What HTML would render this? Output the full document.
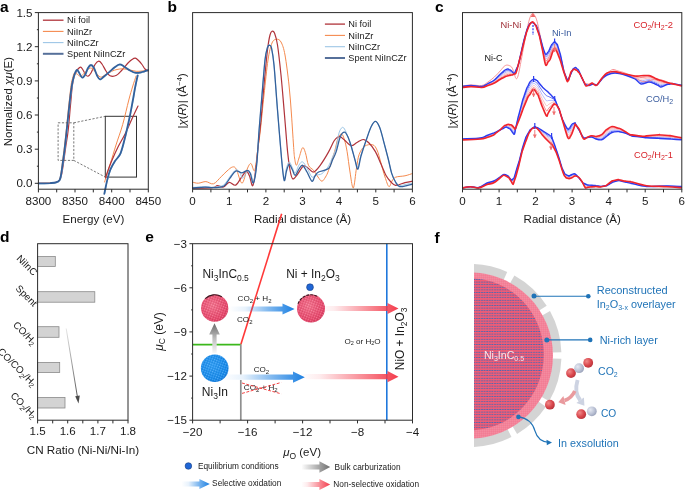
<!DOCTYPE html>
<html><head><meta charset="utf-8"><style>
html,body{margin:0;padding:0;background:#fff;}
svg{display:block;font-family:"Liberation Sans",sans-serif;will-change:transform;}
</style></head><body>
<svg width="685" height="490" viewBox="0 0 685 490">
<rect width="685" height="490" fill="#fff"/>
<text x="0.0" y="11.8" font-size="15.5" text-anchor="start" fill="#000" font-weight="bold" >a</text>
<text x="167.4" y="11.8" font-size="15.5" text-anchor="start" fill="#000" font-weight="bold" >b</text>
<text x="435.0" y="11.8" font-size="15.5" text-anchor="start" fill="#000" font-weight="bold" >c</text>
<text x="0.0" y="242.2" font-size="15.5" text-anchor="start" fill="#000" font-weight="bold" >d</text>
<text x="145.2" y="242.2" font-size="15.5" text-anchor="start" fill="#000" font-weight="bold" >e</text>
<text x="434.6" y="242.6" font-size="15.5" text-anchor="start" fill="#000" font-weight="bold" >f</text>
<path d="M38.5,183.3 C40.4,183.3 47.1,183.2 50.0,183.1 C52.9,182.9 54.4,182.9 56.0,182.4 C57.6,181.9 58.6,181.4 59.5,180.2 C60.4,179.0 60.8,177.9 61.5,175.0 C62.2,172.1 62.8,168.0 63.5,163.0 C64.2,158.0 65.2,150.5 66.0,145.0 C66.8,139.5 67.5,136.7 68.2,130.0 C69.0,123.3 69.8,112.3 70.5,105.0 C71.2,97.7 71.7,90.7 72.3,86.0 C72.9,81.3 73.5,79.2 74.0,77.0 C74.5,74.8 74.9,74.2 75.6,72.9 C76.3,71.6 77.1,70.0 78.0,69.0 C78.9,68.0 80.0,67.0 80.8,67.2 C81.6,67.4 82.2,68.8 83.0,70.0 C83.8,71.2 84.7,73.5 85.5,74.5 C86.3,75.5 87.1,76.5 88.0,76.2 C88.9,76.0 89.8,75.0 91.0,73.0 C92.2,71.0 93.7,66.5 95.0,64.5 C96.3,62.5 97.6,61.2 98.8,61.1 C100.0,61.0 100.8,62.4 102.0,64.0 C103.2,65.7 104.7,69.0 106.0,71.0 C107.3,73.0 108.2,75.1 110.0,75.8 C111.8,76.5 114.5,76.3 116.5,75.3 C118.5,74.3 120.1,72.0 122.0,70.0 C123.9,68.0 126.3,64.8 128.0,63.0 C129.7,61.2 130.8,60.3 132.0,59.5 C133.2,58.7 134.2,58.0 135.3,58.2 C136.4,58.4 137.4,59.5 138.5,60.5 C139.6,61.5 140.9,63.1 142.0,64.5 C143.1,65.9 144.0,67.9 145.0,69.0 C146.0,70.1 147.5,70.7 148.0,71.0" fill="none" stroke="#b0333a" stroke-width="1.2" stroke-linejoin="round" stroke-linecap="round" />
<path d="M38.5,183.3 C40.4,183.3 47.1,183.2 50.0,183.1 C52.9,182.9 54.4,183.0 56.0,182.4 C57.6,181.8 58.7,181.1 59.5,179.5 C60.3,177.9 60.5,175.9 61.0,173.0 C61.5,170.1 61.9,166.5 62.5,162.0 C63.1,157.5 63.8,151.7 64.5,146.0 C65.2,140.3 65.8,134.3 66.5,128.0 C67.2,121.7 67.8,114.3 68.5,108.0 C69.2,101.7 70.0,94.2 70.5,90.0 C71.0,85.8 71.0,85.2 71.5,82.7 C72.0,80.2 73.0,76.6 73.5,75.0 C74.0,73.4 74.2,73.1 74.8,72.9 C75.4,72.7 76.0,73.5 77.0,74.0 C78.0,74.5 79.2,76.5 80.5,76.2 C81.8,76.0 83.4,73.9 85.0,72.5 C86.6,71.1 88.6,68.2 90.3,68.0 C92.0,67.8 93.4,70.0 95.0,71.5 C96.6,73.0 98.4,76.4 100.1,77.0 C101.8,77.6 103.1,76.0 105.0,75.0 C106.9,74.0 109.6,72.2 111.6,71.3 C113.6,70.4 115.1,69.9 117.0,69.5 C118.9,69.1 120.8,68.7 123.0,68.8 C125.2,68.9 127.8,69.6 130.0,70.0 C132.2,70.4 134.1,71.1 136.1,71.3 C138.1,71.5 140.0,71.2 142.0,71.0 C144.0,70.8 147.0,70.5 148.0,70.4" fill="none" stroke="#f58a4e" stroke-width="1.0" stroke-linejoin="round" stroke-linecap="round" />
<path d="M38.8,183.8 C40.7,183.8 47.4,183.8 50.3,183.6 C53.2,183.4 54.7,183.4 56.3,182.9 C57.9,182.4 59.0,181.9 59.8,180.7 C60.6,179.5 60.8,178.0 61.3,175.5 C61.8,173.0 62.2,169.7 62.8,165.5 C63.4,161.3 64.1,156.0 64.8,150.5 C65.5,145.0 66.1,138.7 66.8,132.5 C67.5,126.3 68.1,119.7 68.8,113.5 C69.5,107.3 70.1,100.7 70.8,95.5 C71.5,90.3 72.1,85.9 72.8,82.5 C73.5,79.1 74.2,76.8 74.8,75.0 C75.4,73.2 75.8,72.2 76.3,71.5 C76.8,70.8 77.1,70.2 77.6,70.5 C78.1,70.8 78.5,71.8 79.3,73.0 C80.1,74.2 81.3,77.6 82.3,78.0 C83.3,78.4 84.3,77.1 85.3,75.5 C86.3,73.9 87.3,70.2 88.3,68.5 C89.3,66.8 90.3,65.5 91.3,65.5 C92.3,65.5 93.3,66.8 94.3,68.5 C95.3,70.2 96.3,74.1 97.3,76.0 C98.3,77.9 99.1,79.7 100.3,79.9 C101.5,80.1 102.6,78.3 104.3,77.0 C106.0,75.7 108.5,73.4 110.3,71.8 C112.1,70.2 113.7,68.7 115.3,67.5 C116.9,66.3 118.6,65.0 120.1,64.9 C121.6,64.8 122.6,66.0 124.3,67.0 C126.0,68.0 128.3,69.9 130.3,71.0 C132.3,72.1 134.3,73.2 136.3,73.4 C138.3,73.7 140.3,73.0 142.3,72.5 C144.3,72.0 147.3,70.8 148.3,70.5" fill="none" stroke="#9cc6e6" stroke-width="1.0" stroke-linejoin="round" stroke-linecap="round" />
<path d="M38.5,183.3 C40.4,183.3 47.1,183.2 50.0,183.1 C52.9,182.9 54.4,182.9 56.0,182.4 C57.6,181.9 58.7,181.4 59.5,180.2 C60.3,179.0 60.5,177.5 61.0,175.0 C61.5,172.5 61.9,169.2 62.5,165.0 C63.1,160.8 63.8,155.5 64.5,150.0 C65.2,144.5 65.8,138.2 66.5,132.0 C67.2,125.8 67.8,119.2 68.5,113.0 C69.2,106.8 69.8,100.2 70.5,95.0 C71.2,89.8 71.8,85.4 72.5,82.0 C73.2,78.6 73.9,76.3 74.5,74.5 C75.1,72.7 75.5,71.8 76.0,71.0 C76.5,70.2 76.8,69.8 77.3,70.0 C77.8,70.2 78.2,71.2 79.0,72.5 C79.8,73.8 81.0,77.1 82.0,77.5 C83.0,77.9 84.0,76.6 85.0,75.0 C86.0,73.4 87.0,69.7 88.0,68.0 C89.0,66.3 90.0,65.0 91.0,65.0 C92.0,65.0 93.0,66.2 94.0,68.0 C95.0,69.8 96.0,73.6 97.0,75.5 C98.0,77.4 98.8,79.2 100.0,79.4 C101.2,79.6 102.3,77.8 104.0,76.5 C105.7,75.2 108.2,72.9 110.0,71.3 C111.8,69.7 113.4,68.2 115.0,67.0 C116.6,65.8 118.3,64.5 119.8,64.4 C121.3,64.3 122.3,65.5 124.0,66.5 C125.7,67.5 128.0,69.4 130.0,70.5 C132.0,71.6 134.0,72.7 136.0,72.9 C138.0,73.2 140.0,72.5 142.0,72.0 C144.0,71.5 147.0,70.3 148.0,70.0" fill="none" stroke="#33619c" stroke-width="1.8" stroke-linejoin="round" stroke-linecap="round" />
<rect x="105.3" y="116.3" width="31.2" height="60.8" fill="none" stroke="#333" stroke-width="1"/>
<rect x="58.1" y="122.8" width="15.7" height="37.6" fill="none" stroke="#555" stroke-width="0.8" stroke-dasharray="2.2,1.6"/>
<line x1="73.8" y1="122.8" x2="105.3" y2="116.3" stroke="#555" stroke-width="0.8" stroke-dasharray="2.2,1.6"/>
<line x1="73.8" y1="160.4" x2="105.3" y2="177.1" stroke="#555" stroke-width="0.8" stroke-dasharray="2.2,1.6"/>
<path d="M104.6,182.0 C105.0,180.7 106.0,177.1 107.0,174.0 C108.0,170.9 108.9,168.1 110.4,163.3 C111.9,158.5 114.0,151.5 116.0,145.0 C118.0,138.5 120.6,132.0 122.7,124.5 C124.8,117.0 127.2,106.2 128.8,100.0 C130.4,93.8 131.3,91.0 132.5,87.0 C133.7,83.0 135.5,77.8 136.1,76.0" fill="none" stroke="#f58a4e" stroke-width="1.0" stroke-linejoin="round" stroke-linecap="round" />
<path d="M105.5,178.0 C106.0,176.5 107.3,172.1 108.5,169.0 C109.7,165.9 110.8,162.9 112.4,159.2 C114.0,155.5 116.0,151.1 118.0,147.0 C120.0,142.9 122.5,139.0 124.7,134.7 C126.9,130.4 128.8,125.8 131.0,121.0 C133.2,116.2 136.8,108.6 138.0,106.1" fill="none" stroke="#b0333a" stroke-width="1.2" stroke-linejoin="round" stroke-linecap="round" />
<path d="M104.8,193.0 C105.3,190.8 106.6,183.8 107.6,180.0 C108.6,176.2 109.4,173.1 110.7,170.0 C112.0,166.9 113.6,164.2 115.3,161.5 C117.0,158.8 119.1,158.0 120.9,153.6 C122.7,149.2 124.5,141.2 126.0,135.0 C127.5,128.8 128.9,122.4 130.1,116.6 C131.3,110.8 132.3,105.0 133.2,100.3 C134.1,95.6 134.5,92.4 135.3,88.3 C136.1,84.2 137.6,77.7 138.0,75.6" fill="none" stroke="#9cc6e6" stroke-width="1.0" stroke-linejoin="round" stroke-linecap="round" />
<path d="M104.3,193.9 C104.8,191.5 106.3,183.7 107.3,179.6 C108.3,175.5 109.1,172.5 110.4,169.4 C111.7,166.3 113.3,163.7 115.0,161.0 C116.7,158.3 118.8,157.5 120.6,153.1 C122.4,148.7 124.2,140.8 125.7,134.7 C127.2,128.6 128.6,122.1 129.8,116.3 C131.0,110.5 132.0,104.7 132.9,100.0 C133.8,95.3 134.2,92.1 135.0,88.0 C135.8,83.9 137.2,77.4 137.7,75.3" fill="none" stroke="#33619c" stroke-width="1.8" stroke-linejoin="round" stroke-linecap="round" />
<rect x="38.4" y="12.6" width="109.9" height="176.6" fill="none" stroke="#2b2b2b" stroke-width="1"/>
<line x1="34.8" y1="183.3" x2="38.4" y2="183.3" stroke="#2b2b2b" stroke-width="1"/>
<line x1="34.8" y1="149.2" x2="38.4" y2="149.2" stroke="#2b2b2b" stroke-width="1"/>
<line x1="34.8" y1="115.0" x2="38.4" y2="115.0" stroke="#2b2b2b" stroke-width="1"/>
<line x1="34.8" y1="80.9" x2="38.4" y2="80.9" stroke="#2b2b2b" stroke-width="1"/>
<line x1="34.8" y1="46.7" x2="38.4" y2="46.7" stroke="#2b2b2b" stroke-width="1"/>
<line x1="34.8" y1="12.6" x2="38.4" y2="12.6" stroke="#2b2b2b" stroke-width="1"/>
<line x1="36.9" y1="166.2" x2="38.4" y2="166.2" stroke="#2b2b2b" stroke-width="1"/>
<line x1="36.9" y1="132.1" x2="38.4" y2="132.1" stroke="#2b2b2b" stroke-width="1"/>
<line x1="36.9" y1="98.0" x2="38.4" y2="98.0" stroke="#2b2b2b" stroke-width="1"/>
<line x1="36.9" y1="63.8" x2="38.4" y2="63.8" stroke="#2b2b2b" stroke-width="1"/>
<line x1="36.9" y1="29.7" x2="38.4" y2="29.7" stroke="#2b2b2b" stroke-width="1"/>
<line x1="38.4" y1="189.2" x2="38.4" y2="192.4" stroke="#2b2b2b" stroke-width="1"/>
<line x1="75.0" y1="189.2" x2="75.0" y2="192.4" stroke="#2b2b2b" stroke-width="1"/>
<line x1="111.7" y1="189.2" x2="111.7" y2="192.4" stroke="#2b2b2b" stroke-width="1"/>
<line x1="148.3" y1="189.2" x2="148.3" y2="192.4" stroke="#2b2b2b" stroke-width="1"/>
<line x1="56.7" y1="189.2" x2="56.7" y2="192.4" stroke="#2b2b2b" stroke-width="1"/>
<line x1="93.3" y1="189.2" x2="93.3" y2="192.4" stroke="#2b2b2b" stroke-width="1"/>
<line x1="130.0" y1="189.2" x2="130.0" y2="192.4" stroke="#2b2b2b" stroke-width="1"/>
<text x="32.5" y="187.4" font-size="11.6" text-anchor="end" fill="#1a1a1a" >0.0</text>
<text x="32.5" y="153.3" font-size="11.6" text-anchor="end" fill="#1a1a1a" >0.3</text>
<text x="32.5" y="119.1" font-size="11.6" text-anchor="end" fill="#1a1a1a" >0.6</text>
<text x="32.5" y="85.0" font-size="11.6" text-anchor="end" fill="#1a1a1a" >0.9</text>
<text x="32.5" y="50.8" font-size="11.6" text-anchor="end" fill="#1a1a1a" >1.2</text>
<text x="32.5" y="16.7" font-size="11.6" text-anchor="end" fill="#1a1a1a" >1.5</text>
<text x="38.4" y="204.6" font-size="11.6" text-anchor="middle" fill="#1a1a1a" >8300</text>
<text x="75.0" y="204.6" font-size="11.6" text-anchor="middle" fill="#1a1a1a" >8350</text>
<text x="111.7" y="204.6" font-size="11.6" text-anchor="middle" fill="#1a1a1a" >8400</text>
<text x="148.3" y="204.6" font-size="11.6" text-anchor="middle" fill="#1a1a1a" >8450</text>
<text x="93.4" y="222.8" font-size="11.6" text-anchor="middle" fill="#1a1a1a" >Energy (eV)</text>
<text transform="translate(11.9,101.6) rotate(-90)" font-size="11.5" text-anchor="middle" fill="#1a1a1a">Normalized <tspan font-style="italic">χμ</tspan>(E)</text>
<line x1="42.9" y1="20.2" x2="63.5" y2="20.2" stroke="#b0333a" stroke-width="1.3"/>
<text x="67.0" y="23.4" font-size="9.2" text-anchor="start" fill="#1a1a1a" >Ni foil</text>
<line x1="42.9" y1="31.4" x2="63.5" y2="31.4" stroke="#f58a4e" stroke-width="1.1"/>
<text x="67.0" y="34.6" font-size="9.2" text-anchor="start" fill="#1a1a1a" >NiInZr</text>
<line x1="42.9" y1="42.6" x2="63.5" y2="42.6" stroke="#9cc6e6" stroke-width="1.1"/>
<text x="67.0" y="45.8" font-size="9.2" text-anchor="start" fill="#1a1a1a" >NiInCZr</text>
<line x1="42.9" y1="53.8" x2="63.5" y2="53.8" stroke="#56709a" stroke-width="2.0"/>
<text x="67.0" y="57.0" font-size="9.2" text-anchor="start" fill="#1a1a1a" >Spent NiInCZr</text>
<path d="M192.6,182.2 C193.6,182.4 196.1,183.3 198.3,183.2 C200.5,183.1 203.4,181.5 205.9,181.6 C208.4,181.7 211.0,184.6 213.5,183.8 C216.0,183.0 218.8,178.9 221.1,176.8 C223.3,174.7 225.1,172.6 227.0,171.0 C228.9,169.4 230.9,167.3 232.5,167.0 C234.1,166.7 234.7,166.5 236.3,169.2 C237.9,171.9 240.2,183.2 242.0,183.2 C243.8,183.2 245.6,172.5 247.1,169.2 C248.6,165.9 249.6,163.3 250.9,163.5 C252.2,163.7 253.5,172.9 254.7,170.5 C255.8,168.1 256.9,155.8 257.8,149.0 C258.8,142.2 259.4,139.0 260.4,130.0 C261.4,121.0 262.7,106.7 264.0,95.0 C265.3,83.3 266.7,68.7 268.0,60.0 C269.3,51.3 270.6,46.5 272.0,43.0 C273.4,39.5 275.1,39.5 276.6,39.3 C278.1,39.1 279.6,39.4 281.0,42.0 C282.4,44.6 283.7,47.8 285.0,55.0 C286.3,62.2 287.9,75.0 289.0,85.0 C290.1,95.0 290.8,105.0 291.5,115.0 C292.2,125.0 293.0,137.8 293.5,145.0 C294.0,152.2 294.1,154.6 294.6,158.0 C295.1,161.4 295.7,165.3 296.4,165.3 C297.1,165.3 298.0,160.9 299.0,158.0 C300.0,155.1 301.5,148.5 302.6,147.7 C303.7,146.9 304.5,150.1 305.5,153.0 C306.5,155.9 307.2,162.4 308.5,165.3 C309.8,168.2 311.9,168.4 313.5,170.3 C315.1,172.2 316.6,175.2 318.0,177.0 C319.4,178.8 320.6,181.2 321.9,181.2 C323.1,181.2 324.4,178.8 325.5,177.0 C326.6,175.2 327.1,174.5 328.6,170.3 C330.1,166.1 332.9,157.3 334.5,151.9 C336.1,146.5 336.8,141.0 338.0,138.0 C339.2,135.0 340.6,133.8 341.7,134.1 C342.8,134.4 343.6,137.1 344.5,140.0 C345.4,142.9 346.2,146.3 347.1,151.6 C348.0,156.9 349.0,165.9 350.0,172.0 C351.0,178.1 352.2,188.7 353.3,188.0 C354.4,187.3 355.5,173.6 356.5,168.0 C357.5,162.4 357.8,157.9 359.2,154.3 C360.6,150.7 362.4,147.8 364.6,146.2 C366.9,144.6 370.6,144.2 372.7,144.8 C374.8,145.4 375.6,147.1 377.0,150.0 C378.4,152.9 379.5,157.9 380.8,162.4 C382.1,166.9 383.6,173.0 385.0,177.0 C386.4,181.0 387.7,185.9 388.9,186.6 C390.1,187.3 390.9,182.6 392.0,181.0 C393.1,179.4 393.4,178.1 395.6,177.2 C397.8,176.3 402.2,176.4 405.0,175.8 C407.8,175.2 411.2,173.9 412.4,173.5" fill="none" stroke="#f58a4e" stroke-width="1.0" stroke-linejoin="round" stroke-linecap="round" />
<path d="M192.6,188.2 C195.9,188.1 208.2,188.0 212.3,187.6 C216.4,187.2 215.4,185.8 217.3,185.7 C219.2,185.6 221.6,187.6 223.6,187.0 C225.6,186.4 227.3,182.6 229.3,182.3 C231.3,182.0 233.5,186.2 235.7,185.1 C237.9,184.0 240.8,177.9 242.6,175.6 C244.4,173.3 245.2,171.0 246.4,171.1 C247.6,171.2 248.4,173.6 249.5,176.0 C250.6,178.4 251.7,187.0 252.8,185.7 C253.9,184.4 255.0,175.2 255.9,168.0 C256.9,160.8 257.6,150.7 258.5,142.7 C259.4,134.7 260.1,129.6 261.0,120.0 C261.9,110.4 262.9,96.7 264.0,85.0 C265.1,73.3 266.5,58.3 267.5,50.0 C268.5,41.7 269.2,38.1 270.0,35.0 C270.8,31.9 271.2,31.5 272.0,31.2 C272.8,30.9 273.6,30.7 274.5,33.0 C275.4,35.3 276.4,38.0 277.5,45.0 C278.6,52.0 279.8,63.3 281.0,75.0 C282.2,86.7 283.4,102.2 284.5,115.0 C285.6,127.8 286.7,142.7 287.6,151.9 C288.5,161.1 289.2,165.5 290.0,170.0 C290.8,174.5 291.5,177.8 292.6,178.7 C293.7,179.6 295.0,177.4 296.8,175.3 C298.6,173.2 301.6,167.2 303.5,166.1 C305.4,165.0 306.8,167.5 308.5,168.5 C310.2,169.5 311.6,172.5 313.5,172.0 C315.4,171.5 317.7,168.7 320.2,165.3 C322.7,162.0 326.3,156.0 328.6,151.9 C330.9,147.8 332.5,143.4 334.0,141.0 C335.5,138.6 336.4,138.0 337.5,137.3 C338.6,136.6 339.1,136.3 340.4,136.8 C341.6,137.3 343.2,139.0 345.0,140.5 C346.8,142.0 349.2,145.4 351.2,145.7 C353.2,146.0 355.0,143.5 357.0,142.5 C359.0,141.5 361.3,139.4 363.3,139.5 C365.3,139.6 367.0,141.0 369.0,143.0 C371.0,145.0 373.4,148.1 375.4,151.6 C377.4,155.1 379.2,160.0 381.0,164.0 C382.8,168.0 384.6,172.9 386.2,175.8 C387.8,178.7 388.9,179.9 390.5,181.5 C392.1,183.1 393.2,185.1 395.6,185.3 C398.0,185.5 402.2,183.3 405.0,182.6 C407.8,181.9 411.2,181.4 412.4,181.2" fill="none" stroke="#b0333a" stroke-width="1.2" stroke-linejoin="round" stroke-linecap="round" />
<path d="M192.6,187.5 C194.6,187.4 201.2,186.8 204.7,186.7 C208.2,186.6 210.3,187.5 213.5,187.2 C216.7,186.9 220.8,186.8 223.6,185.0 C226.3,183.2 228.0,179.0 230.0,176.5 C232.0,174.0 234.1,170.8 235.7,170.0 C237.3,169.2 238.3,170.7 239.5,172.0 C240.7,173.3 241.4,178.1 242.6,178.1 C243.8,178.1 245.5,173.3 246.5,172.0 C247.5,170.7 247.8,170.2 248.5,170.5 C249.2,170.8 250.2,172.2 251.0,174.0 C251.8,175.8 252.7,183.0 253.6,181.5 C254.5,180.0 255.7,173.6 256.6,165.0 C257.5,156.4 258.2,141.7 259.1,130.0 C260.0,118.3 261.0,106.7 262.0,95.0 C263.0,83.3 264.1,68.0 265.0,60.0 C265.9,52.0 266.8,49.5 267.5,47.0 C268.2,44.5 268.8,44.8 269.5,45.0 C270.2,45.2 270.8,44.7 271.5,48.0 C272.2,51.3 273.0,54.7 274.0,65.0 C275.0,75.3 276.2,94.2 277.5,110.0 C278.8,125.8 280.6,148.7 281.7,160.0 C282.8,171.3 283.4,176.7 284.2,178.0 C285.0,179.3 285.7,170.7 286.5,168.0 C287.3,165.3 288.2,161.9 289.2,161.9 C290.2,161.9 291.5,166.2 292.5,168.0 C293.5,169.8 294.0,173.5 295.1,173.0 C296.2,172.5 297.8,166.8 299.0,165.0 C300.2,163.2 301.3,161.4 302.6,161.9 C303.9,162.4 305.4,165.5 307.0,168.0 C308.6,170.5 310.4,175.8 311.9,177.0 C313.4,178.2 314.3,175.6 316.0,175.0 C317.7,174.4 319.8,175.2 321.9,173.7 C324.0,172.2 326.8,168.8 328.6,166.0 C330.4,163.2 331.2,160.0 332.5,157.0 C333.8,154.0 335.0,152.0 336.1,148.0 C337.2,144.0 338.0,136.4 339.0,133.0 C340.0,129.6 341.1,128.3 342.0,127.6 C342.9,126.9 343.5,127.4 344.5,129.0 C345.5,130.6 346.9,134.1 348.0,137.0 C349.1,139.9 350.0,142.4 351.2,146.2 C352.4,150.0 353.9,156.5 355.0,160.0 C356.1,163.5 356.9,167.8 357.9,167.0 C358.9,166.2 359.6,159.4 361.0,155.0 C362.4,150.6 364.3,145.5 366.0,140.8 C367.7,136.1 369.4,130.2 371.0,127.0 C372.6,123.8 374.0,121.4 375.4,121.4 C376.8,121.4 378.1,123.8 379.5,127.0 C380.9,130.2 382.1,135.6 383.5,140.8 C384.9,146.0 386.6,152.6 388.0,158.0 C389.4,163.4 390.4,169.2 391.6,173.1 C392.9,177.0 394.2,179.4 395.5,181.5 C396.8,183.6 397.6,185.1 399.6,185.5 C401.6,185.9 405.6,184.3 407.7,184.0 C409.8,183.7 411.6,183.6 412.4,183.5" fill="none" stroke="#9cc6e6" stroke-width="1.0" stroke-linejoin="round" stroke-linecap="round" />
<path d="M192.6,188.0 C194.6,187.9 201.2,187.3 204.7,187.2 C208.2,187.1 210.3,187.8 213.5,187.6 C216.7,187.4 220.8,187.9 223.6,186.3 C226.3,184.7 228.0,180.6 230.0,178.1 C232.0,175.6 233.7,172.0 235.7,171.1 C237.7,170.2 240.0,172.9 242.0,172.8 C244.0,172.7 246.3,170.1 247.7,170.3 C249.1,170.5 249.6,171.9 250.5,174.0 C251.4,176.1 252.4,184.3 253.4,182.9 C254.4,181.5 255.7,174.2 256.6,165.4 C257.6,156.6 258.2,141.7 259.1,130.0 C260.0,118.3 261.0,106.7 262.0,95.0 C263.0,83.3 264.1,67.9 265.0,60.0 C265.9,52.1 266.8,50.0 267.5,47.5 C268.2,45.0 268.8,45.2 269.5,45.3 C270.2,45.4 270.8,44.7 271.5,48.0 C272.2,51.3 273.0,54.7 274.0,65.0 C275.0,75.3 276.2,94.1 277.5,110.0 C278.8,125.9 280.6,148.6 281.7,160.3 C282.8,172.0 283.4,178.6 284.2,180.4 C285.0,182.2 285.7,173.7 286.5,171.0 C287.3,168.3 288.2,164.6 289.2,164.4 C290.2,164.2 291.5,168.2 292.5,170.0 C293.5,171.8 294.0,175.5 295.1,175.3 C296.2,175.1 297.8,170.7 299.0,169.0 C300.2,167.3 301.3,164.8 302.6,165.3 C303.9,165.8 305.4,169.3 307.0,172.0 C308.6,174.7 310.6,180.5 311.9,181.2 C313.2,181.9 313.9,177.5 315.0,176.0 C316.1,174.5 316.3,173.2 318.6,172.0 C320.9,170.8 326.3,170.6 328.6,168.6 C330.9,166.6 331.2,162.8 332.5,160.0 C333.8,157.2 334.8,155.8 336.1,151.9 C337.4,148.0 338.9,140.1 340.3,136.8 C341.7,133.5 343.1,132.2 344.4,132.2 C345.7,132.2 346.9,134.7 348.0,137.0 C349.1,139.3 350.0,142.4 351.2,146.2 C352.4,150.0 353.9,156.2 355.0,160.0 C356.1,163.8 356.9,169.8 357.9,169.1 C358.9,168.4 359.6,160.7 361.0,156.0 C362.4,151.3 364.3,145.6 366.0,140.8 C367.7,136.0 369.4,130.2 371.0,127.0 C372.6,123.8 374.0,121.4 375.4,121.4 C376.8,121.4 378.1,123.8 379.5,127.0 C380.9,130.2 382.1,135.6 383.5,140.8 C384.9,146.0 386.6,152.6 388.0,158.0 C389.4,163.4 390.4,169.1 391.6,173.1 C392.9,177.1 394.2,179.8 395.5,182.0 C396.8,184.2 397.6,186.0 399.6,186.6 C401.6,187.2 405.6,185.7 407.7,185.3 C409.8,184.9 411.6,184.4 412.4,184.2" fill="none" stroke="#33619c" stroke-width="1.3" stroke-linejoin="round" stroke-linecap="round" />
<rect x="192.6" y="12.6" width="219.8" height="176.6" fill="none" stroke="#2b2b2b" stroke-width="1"/>
<line x1="192.6" y1="189.2" x2="192.6" y2="192.4" stroke="#2b2b2b" stroke-width="1"/>
<line x1="229.2" y1="189.2" x2="229.2" y2="192.4" stroke="#2b2b2b" stroke-width="1"/>
<line x1="265.9" y1="189.2" x2="265.9" y2="192.4" stroke="#2b2b2b" stroke-width="1"/>
<line x1="302.5" y1="189.2" x2="302.5" y2="192.4" stroke="#2b2b2b" stroke-width="1"/>
<line x1="339.1" y1="189.2" x2="339.1" y2="192.4" stroke="#2b2b2b" stroke-width="1"/>
<line x1="375.8" y1="189.2" x2="375.8" y2="192.4" stroke="#2b2b2b" stroke-width="1"/>
<line x1="412.4" y1="189.2" x2="412.4" y2="192.4" stroke="#2b2b2b" stroke-width="1"/>
<line x1="210.9" y1="189.2" x2="210.9" y2="192.4" stroke="#2b2b2b" stroke-width="1"/>
<line x1="247.5" y1="189.2" x2="247.5" y2="192.4" stroke="#2b2b2b" stroke-width="1"/>
<line x1="284.2" y1="189.2" x2="284.2" y2="192.4" stroke="#2b2b2b" stroke-width="1"/>
<line x1="320.8" y1="189.2" x2="320.8" y2="192.4" stroke="#2b2b2b" stroke-width="1"/>
<line x1="357.4" y1="189.2" x2="357.4" y2="192.4" stroke="#2b2b2b" stroke-width="1"/>
<line x1="394.1" y1="189.2" x2="394.1" y2="192.4" stroke="#2b2b2b" stroke-width="1"/>
<text x="192.6" y="204.6" font-size="11.6" text-anchor="middle" fill="#1a1a1a" >0</text>
<text x="229.2" y="204.6" font-size="11.6" text-anchor="middle" fill="#1a1a1a" >1</text>
<text x="265.9" y="204.6" font-size="11.6" text-anchor="middle" fill="#1a1a1a" >2</text>
<text x="302.5" y="204.6" font-size="11.6" text-anchor="middle" fill="#1a1a1a" >3</text>
<text x="339.1" y="204.6" font-size="11.6" text-anchor="middle" fill="#1a1a1a" >4</text>
<text x="375.8" y="204.6" font-size="11.6" text-anchor="middle" fill="#1a1a1a" >5</text>
<text x="412.4" y="204.6" font-size="11.6" text-anchor="middle" fill="#1a1a1a" >6</text>
<text x="302.5" y="223.1" font-size="11.5" text-anchor="middle" fill="#1a1a1a" >Radial distance (Å)</text>
<text transform="translate(186.3,100.9) rotate(-90)" font-size="11.5" text-anchor="middle" fill="#1a1a1a">|<tspan font-style="italic">χ</tspan>(<tspan font-style="italic">R</tspan>)| (Å<tspan dy="-4" font-size="7.5">−4</tspan><tspan dy="4">)</tspan></text>
<line x1="324.9" y1="24.1" x2="345" y2="24.1" stroke="#b0333a" stroke-width="1.3"/>
<text x="348.3" y="27.3" font-size="9.2" text-anchor="start" fill="#1a1a1a" >Ni foil</text>
<line x1="324.9" y1="35.4" x2="345" y2="35.4" stroke="#f58a4e" stroke-width="1.1"/>
<text x="348.3" y="38.6" font-size="9.2" text-anchor="start" fill="#1a1a1a" >NiInZr</text>
<line x1="324.9" y1="46.7" x2="345" y2="46.7" stroke="#9cc6e6" stroke-width="1.1"/>
<text x="348.3" y="49.9" font-size="9.2" text-anchor="start" fill="#1a1a1a" >NiInCZr</text>
<line x1="324.9" y1="58.0" x2="345" y2="58.0" stroke="#56709a" stroke-width="2.0"/>
<text x="348.3" y="61.2" font-size="9.2" text-anchor="start" fill="#1a1a1a" >Spent NiInCZr</text>
<path d="M462.5,86.7 C463.9,86.5 467.8,85.7 471.0,85.7 C474.2,85.7 479.0,87.0 481.8,86.7 C484.6,86.4 485.9,84.9 488.0,83.9 C490.1,82.9 492.4,82.0 494.4,80.6 C496.4,79.2 498.2,77.0 500.0,75.5 C501.8,74.0 503.8,72.2 505.1,71.3 C506.4,70.5 507.4,70.5 508.0,70.4 C508.6,70.3 508.5,70.5 509.0,70.7 C509.5,70.9 510.4,71.2 511.0,71.4 C511.6,71.7 511.7,72.0 512.3,72.3 C512.8,72.7 513.7,73.9 514.3,73.6 C514.9,73.3 515.2,72.1 515.9,70.7 C516.6,69.3 517.9,66.0 518.3,64.9 C518.7,63.8 518.0,66.0 518.5,64.1 C519.0,62.1 520.5,55.3 521.0,53.3 C521.5,51.3 520.8,54.2 521.3,52.0 C521.8,49.9 523.1,43.9 524.0,40.4 C524.9,36.9 526.2,32.6 526.7,30.8 C527.2,29.0 526.5,31.0 527.0,29.8 C527.5,28.6 529.0,24.8 530.0,23.6 C531.0,22.4 532.0,22.3 533.0,22.6 C534.0,23.0 535.4,25.0 536.0,25.6 C536.6,26.2 536.0,24.8 536.5,26.3 C537.0,27.8 538.8,33.0 539.3,34.7 C539.8,36.3 539.3,34.3 539.8,36.3 C540.3,38.3 542.0,44.8 542.5,46.7 C543.0,48.6 542.3,46.3 542.8,47.9 C543.3,49.5 544.7,55.3 545.6,56.4 C546.5,57.4 547.5,54.5 548.0,54.0 C548.5,53.5 548.1,54.1 548.5,53.5 C548.9,52.9 549.6,51.4 550.1,50.3 C550.6,49.3 551.1,47.9 551.5,47.1 C551.9,46.3 552.0,46.3 552.5,45.6 C553.0,45.0 553.9,43.0 554.6,43.1 C555.4,43.1 556.5,45.3 557.0,45.9 C557.5,46.5 557.0,45.2 557.5,46.6 C558.0,48.1 559.5,53.0 560.0,54.6 C560.5,56.2 559.9,53.7 560.5,56.2 C561.1,58.8 562.9,67.2 563.5,69.9 C564.1,72.5 563.4,70.4 564.0,72.1 C564.6,73.7 566.5,78.3 567.1,79.7 C567.7,81.1 567.4,80.7 567.6,80.6 C567.8,80.5 568.1,79.9 568.5,79.2 C568.9,78.4 569.6,76.8 570.0,75.9 C570.4,74.9 570.5,74.4 571.0,73.3 C571.5,72.2 572.5,70.0 573.0,69.2 C573.5,68.4 573.6,68.7 574.0,68.5 C574.4,68.3 575.0,67.9 575.5,68.0 C576.0,68.0 576.5,68.7 577.0,69.1 C577.5,69.5 578.0,69.7 578.5,70.5 C579.0,71.2 579.5,72.5 580.0,73.6 C580.5,74.7 581.0,75.9 581.5,77.0 C582.0,78.1 582.4,78.9 583.0,80.2 C583.6,81.4 584.5,83.6 585.0,84.4 C585.5,85.2 585.3,84.8 586.0,85.0 C586.7,85.2 588.0,85.6 589.0,85.4 C590.0,85.2 591.3,84.3 592.0,84.1 C592.7,83.9 592.5,83.8 593.0,83.9 C593.5,84.0 594.3,84.4 595.0,84.6 C595.7,84.8 595.8,86.0 597.0,85.0 C598.2,84.0 600.3,80.5 602.0,78.8 C603.7,77.1 604.8,75.6 607.0,74.6 C609.2,73.6 612.0,72.7 615.0,72.7 C618.0,72.8 621.7,73.9 625.0,74.8 C628.3,75.7 632.3,77.1 635.0,78.4 C637.7,79.7 638.7,82.0 641.0,82.4 C643.3,82.8 646.7,80.6 649.0,80.7 C651.3,80.8 653.3,82.2 655.0,82.8 C656.7,83.5 658.0,84.3 659.0,84.8 C660.0,85.3 659.7,85.8 661.0,85.7 C662.3,85.6 665.7,84.4 667.0,84.1 C668.3,83.8 668.0,84.0 669.0,84.0 C670.0,83.9 670.9,83.4 673.0,83.7 C675.1,83.9 680.3,85.3 681.8,85.6" fill="none" stroke="#5a66f4" stroke-width="0.9"/>
<path d="M462.5,86.9 C463.9,86.7 467.8,85.9 471.0,85.9 C474.2,85.9 479.0,87.2 481.8,86.9 C484.6,86.6 485.9,85.3 488.0,84.3 C490.1,83.4 492.4,82.5 494.4,81.2 C496.4,79.9 498.2,77.9 500.0,76.5 C501.8,75.1 503.8,73.5 505.1,72.7 C506.4,71.9 507.4,71.9 508.0,71.7 C508.6,71.6 508.5,71.8 509.0,71.9 C509.5,72.0 510.4,72.2 511.0,72.4 C511.6,72.5 511.7,72.8 512.3,73.0 C512.8,73.2 513.7,73.9 514.3,73.7 C514.9,73.4 515.2,72.8 515.9,71.3 C516.6,69.8 517.9,66.1 518.3,64.9 C518.7,63.7 518.0,66.0 518.5,64.1 C519.0,62.2 520.5,55.5 521.0,53.6 C521.5,51.6 520.8,54.5 521.3,52.3 C521.8,50.2 523.1,44.3 524.0,40.8 C524.9,37.3 526.2,32.8 526.7,31.0 C527.2,29.3 526.5,31.4 527.0,30.1 C527.5,28.9 529.0,25.0 530.0,23.7 C531.0,22.4 532.0,22.1 533.0,22.4 C534.0,22.8 535.4,25.0 536.0,25.7 C536.6,26.4 536.0,25.0 536.5,26.6 C537.0,28.1 538.8,33.2 539.3,34.9 C539.8,36.5 539.3,34.6 539.8,36.7 C540.3,38.8 542.0,45.5 542.5,47.5 C543.0,49.6 542.3,47.0 542.8,48.8 C543.3,50.6 544.7,57.3 545.6,58.5 C546.5,59.7 547.5,56.5 548.0,56.0 C548.5,55.5 548.1,56.0 548.5,55.5 C548.9,54.9 549.6,53.7 550.1,52.6 C550.6,51.6 551.1,50.0 551.5,49.2 C551.9,48.3 552.0,48.2 552.5,47.4 C553.0,46.6 553.9,44.4 554.6,44.4 C555.4,44.4 556.5,46.8 557.0,47.5 C557.5,48.1 557.0,46.9 557.5,48.3 C558.0,49.7 559.5,54.3 560.0,55.8 C560.5,57.3 559.9,55.1 560.5,57.5 C561.1,59.8 562.9,67.7 563.5,70.1 C564.1,72.6 563.4,70.5 564.0,72.2 C564.6,73.8 566.5,78.7 567.1,80.1 C567.7,81.5 567.4,80.8 567.6,80.7 C567.8,80.6 568.1,80.3 568.5,79.5 C568.9,78.7 569.6,76.8 570.0,75.8 C570.4,74.7 570.5,74.1 571.0,73.0 C571.5,71.9 572.5,70.1 573.0,69.4 C573.5,68.7 573.6,68.8 574.0,68.6 C574.4,68.5 575.0,68.3 575.5,68.4 C576.0,68.5 576.5,69.0 577.0,69.5 C577.5,69.9 578.0,70.2 578.5,70.9 C579.0,71.6 579.5,72.7 580.0,73.7 C580.5,74.7 581.0,75.9 581.5,77.0 C582.0,78.1 582.4,78.9 583.0,80.1 C583.6,81.3 584.5,83.4 585.0,84.3 C585.5,85.2 585.3,85.1 586.0,85.2 C586.7,85.4 588.0,85.5 589.0,85.3 C590.0,85.1 591.3,84.1 592.0,83.8 C592.7,83.6 592.5,83.7 593.0,83.9 C593.5,84.0 594.3,84.5 595.0,84.7 C595.7,84.9 595.8,86.0 597.0,85.0 C598.2,84.0 600.3,80.4 602.0,78.6 C603.7,76.8 604.8,75.2 607.0,74.2 C609.2,73.2 612.0,72.4 615.0,72.4 C618.0,72.5 621.7,73.7 625.0,74.6 C628.3,75.5 632.3,76.8 635.0,77.8 C637.7,78.8 638.7,80.5 641.0,80.7 C643.3,81.0 646.7,79.3 649.0,79.4 C651.3,79.6 653.3,81.0 655.0,81.7 C656.7,82.4 658.0,83.1 659.0,83.6 C660.0,84.1 659.7,84.4 661.0,84.4 C662.3,84.5 665.7,83.8 667.0,83.7 C668.3,83.5 668.0,83.7 669.0,83.7 C670.0,83.7 670.9,83.4 673.0,83.7 C675.1,84.1 680.3,85.4 681.8,85.7" fill="none" stroke="#a4a8fa" stroke-width="0.8"/>
<path d="M462.5,87.1 C463.9,86.9 467.8,86.2 471.0,86.2 C474.2,86.2 479.0,87.3 481.8,87.1 C484.6,86.9 485.9,85.6 488.0,84.7 C490.1,83.8 492.4,83.0 494.4,81.8 C496.4,80.6 498.2,78.8 500.0,77.5 C501.8,76.2 503.8,74.8 505.1,74.0 C506.4,73.3 507.4,73.2 508.0,73.1 C508.6,72.9 508.5,73.1 509.0,73.1 C509.5,73.1 510.4,73.2 511.0,73.3 C511.6,73.4 511.7,73.5 512.3,73.6 C512.8,73.7 513.7,74.0 514.3,73.7 C514.9,73.5 515.2,73.4 515.9,71.9 C516.6,70.4 517.9,66.1 518.3,64.8 C518.7,63.5 518.0,65.9 518.5,64.0 C519.0,62.2 520.5,55.8 521.0,53.9 C521.5,52.0 520.8,54.8 521.3,52.7 C521.8,50.5 523.1,44.8 524.0,41.2 C524.9,37.6 526.2,33.1 526.7,31.3 C527.2,29.5 526.5,31.7 527.0,30.5 C527.5,29.2 529.0,25.2 530.0,23.8 C531.0,22.4 532.0,21.9 533.0,22.3 C534.0,22.6 535.4,25.1 536.0,25.8 C536.6,26.6 536.0,25.3 536.5,26.9 C537.0,28.4 538.8,33.3 539.3,35.0 C539.8,36.7 539.3,34.8 539.8,37.0 C540.3,39.2 542.0,46.2 542.5,48.4 C543.0,50.5 542.3,47.6 542.8,49.7 C543.3,51.7 544.7,59.3 545.6,60.7 C546.5,62.1 547.5,58.5 548.0,58.0 C548.5,57.4 548.1,58.0 548.5,57.4 C548.9,56.9 549.6,55.9 550.1,54.9 C550.6,53.9 551.1,52.2 551.5,51.3 C551.9,50.3 552.0,50.0 552.5,49.1 C553.0,48.2 553.9,45.8 554.6,45.8 C555.4,45.8 556.5,48.3 557.0,49.0 C557.5,49.7 557.0,48.6 557.5,50.0 C558.0,51.3 559.5,55.6 560.0,57.0 C560.5,58.5 559.9,56.5 560.5,58.7 C561.1,60.9 562.9,68.2 563.5,70.4 C564.1,72.7 563.4,70.6 564.0,72.2 C564.6,73.9 566.5,79.0 567.1,80.4 C567.7,81.9 567.4,80.9 567.6,80.8 C567.8,80.7 568.1,80.7 568.5,79.8 C568.9,79.0 569.6,76.8 570.0,75.6 C570.4,74.4 570.5,73.7 571.0,72.7 C571.5,71.7 572.5,70.3 573.0,69.6 C573.5,68.9 573.6,68.9 574.0,68.8 C574.4,68.6 575.0,68.7 575.5,68.8 C576.0,69.0 576.5,69.4 577.0,69.8 C577.5,70.2 578.0,70.7 578.5,71.3 C579.0,72.0 579.5,72.9 580.0,73.8 C580.5,74.7 581.0,76.0 581.5,77.0 C582.0,78.0 582.4,78.9 583.0,80.1 C583.6,81.3 584.5,83.3 585.0,84.2 C585.5,85.1 585.3,85.3 586.0,85.5 C586.7,85.7 588.0,85.5 589.0,85.2 C590.0,84.9 591.3,83.8 592.0,83.5 C592.7,83.3 592.5,83.6 593.0,83.8 C593.5,84.0 594.3,84.6 595.0,84.8 C595.7,85.0 595.8,86.1 597.0,85.0 C598.2,83.9 600.3,80.3 602.0,78.4 C603.7,76.5 604.8,74.8 607.0,73.8 C609.2,72.8 612.0,72.1 615.0,72.2 C618.0,72.3 621.7,73.6 625.0,74.4 C628.3,75.2 632.3,76.4 635.0,77.2 C637.7,78.0 638.7,78.9 641.0,79.1 C643.3,79.3 646.7,77.9 649.0,78.2 C651.3,78.4 653.3,79.8 655.0,80.5 C656.7,81.3 658.0,82.0 659.0,82.4 C660.0,82.8 659.7,83.0 661.0,83.2 C662.3,83.3 665.7,83.2 667.0,83.2 C668.3,83.3 668.0,83.4 669.0,83.5 C670.0,83.6 670.9,83.4 673.0,83.8 C675.1,84.2 680.3,85.5 681.8,85.8" fill="none" stroke="#f8b4b6" stroke-width="0.8"/>
<path d="M462.5,87.3 C463.9,87.1 467.8,86.4 471.0,86.4 C474.2,86.4 479.0,87.5 481.8,87.3 C484.6,87.1 485.9,85.9 488.0,85.1 C490.1,84.3 492.4,83.5 494.4,82.4 C496.4,81.3 498.2,79.7 500.0,78.5 C501.8,77.3 503.8,76.0 505.1,75.4 C506.4,74.7 507.4,74.6 508.0,74.4 C508.6,74.3 508.5,74.3 509.0,74.3 C509.5,74.3 510.4,74.2 511.0,74.2 C511.6,74.2 511.7,74.3 512.3,74.3 C512.8,74.2 513.7,74.1 514.3,73.8 C514.9,73.5 515.2,74.0 515.9,72.5 C516.6,71.0 517.9,66.2 518.3,64.8 C518.7,63.3 518.0,65.8 518.5,64.0 C519.0,62.3 520.5,56.0 521.0,54.2 C521.5,52.3 520.8,55.1 521.3,53.0 C521.8,50.9 523.1,45.2 524.0,41.6 C524.9,38.0 526.2,33.4 526.7,31.5 C527.2,29.7 526.5,32.0 527.0,30.8 C527.5,29.5 529.0,25.3 530.0,23.9 C531.0,22.5 532.0,21.7 533.0,22.1 C534.0,22.4 535.4,25.1 536.0,25.9 C536.6,26.8 536.0,25.6 536.5,27.1 C537.0,28.7 538.8,33.5 539.3,35.2 C539.8,36.9 539.3,35.0 539.8,37.3 C540.3,39.7 542.0,47.0 542.5,49.2 C543.0,51.4 542.3,48.3 542.8,50.6 C543.3,52.8 544.7,61.3 545.6,62.8 C546.5,64.4 547.5,60.6 548.0,60.0 C548.5,59.4 548.1,59.9 548.5,59.4 C548.9,59.0 549.6,58.2 550.1,57.2 C550.6,56.2 551.1,54.4 551.5,53.3 C551.9,52.3 552.0,51.8 552.5,50.8 C553.0,49.8 553.9,47.2 554.6,47.1 C555.4,47.1 556.5,49.7 557.0,50.5 C557.5,51.2 557.0,50.3 557.5,51.6 C558.0,52.9 559.5,56.9 560.0,58.3 C560.5,59.7 559.9,57.8 560.5,59.9 C561.1,62.0 562.9,68.6 563.5,70.7 C564.1,72.8 563.4,70.6 564.0,72.3 C564.6,74.0 566.5,79.4 567.1,80.8 C567.7,82.2 567.4,81.0 567.6,80.9 C567.8,80.7 568.1,81.1 568.5,80.2 C568.9,79.3 569.6,76.8 570.0,75.5 C570.4,74.2 570.5,73.3 571.0,72.3 C571.5,71.4 572.5,70.4 573.0,69.8 C573.5,69.2 573.6,69.0 574.0,68.9 C574.4,68.8 575.0,69.1 575.5,69.3 C576.0,69.5 576.5,69.7 577.0,70.2 C577.5,70.6 578.0,71.2 578.5,71.8 C579.0,72.4 579.5,73.0 580.0,73.9 C580.5,74.8 581.0,76.0 581.5,77.0 C582.0,78.0 582.4,78.9 583.0,80.0 C583.6,81.2 584.5,83.1 585.0,84.1 C585.5,85.1 585.3,85.6 586.0,85.8 C586.7,85.9 588.0,85.5 589.0,85.1 C590.0,84.7 591.3,83.5 592.0,83.3 C592.7,83.0 592.5,83.5 593.0,83.7 C593.5,84.0 594.3,84.7 595.0,84.9 C595.7,85.1 595.8,86.1 597.0,85.0 C598.2,83.9 600.3,80.1 602.0,78.2 C603.7,76.3 604.8,74.5 607.0,73.4 C609.2,72.3 612.0,71.7 615.0,71.9 C618.0,72.0 621.7,73.4 625.0,74.2 C628.3,75.0 632.3,76.1 635.0,76.6 C637.7,77.1 638.7,77.4 641.0,77.5 C643.3,77.5 646.7,76.6 649.0,76.9 C651.3,77.2 653.3,78.7 655.0,79.4 C656.7,80.1 658.0,80.8 659.0,81.2 C660.0,81.6 659.7,81.6 661.0,81.9 C662.3,82.2 665.7,82.6 667.0,82.8 C668.3,83.0 668.0,83.1 669.0,83.2 C670.0,83.4 670.9,83.4 673.0,83.9 C675.1,84.3 680.3,85.6 681.8,85.9" fill="none" stroke="#f47a7e" stroke-width="0.9"/>
<path d="M462.5,86.0 C463.9,85.8 467.8,85.1 471.0,85.0 C474.2,84.9 479.0,86.0 481.8,85.5 C484.6,85.0 485.9,83.4 488.0,82.0 C490.1,80.6 492.3,78.9 494.4,77.0 C496.5,75.1 498.8,72.5 500.4,70.7 C502.0,69.0 502.9,67.4 504.0,66.5 C505.1,65.6 506.0,65.0 507.3,65.1 C508.6,65.2 510.6,65.9 511.7,67.2 C512.8,68.5 513.3,71.1 514.0,73.0 C514.7,74.9 515.3,78.0 516.0,78.5 C516.7,79.0 517.1,79.0 518.0,76.0 C518.9,73.0 520.2,65.5 521.2,60.3 C522.2,55.1 523.1,49.6 524.0,45.0 C524.9,40.4 525.5,36.8 526.4,32.5 C527.3,28.2 528.5,22.2 529.5,19.0 C530.5,15.8 531.5,13.8 532.5,13.5 C533.5,13.2 534.6,15.3 535.5,17.0 C536.4,18.7 536.9,20.6 537.7,23.9 C538.5,27.2 539.5,32.3 540.5,37.0 C541.5,41.7 542.6,48.1 543.5,52.0 C544.4,55.9 545.1,59.7 546.0,60.5 C546.9,61.3 548.0,58.8 549.0,57.0 C550.0,55.2 551.0,51.6 552.0,50.0 C553.0,48.4 554.0,47.5 555.0,47.5 C556.0,47.5 557.0,48.2 558.0,50.0 C559.0,51.8 559.9,54.3 561.0,58.0 C562.1,61.7 563.4,68.4 564.5,72.0 C565.6,75.6 566.6,79.0 567.5,79.5 C568.4,80.0 569.0,76.7 570.0,75.0 C571.0,73.3 572.3,70.2 573.5,69.5 C574.7,68.8 575.9,70.2 577.0,71.0 C578.1,71.8 578.8,72.2 580.0,74.0 C581.2,75.8 582.7,80.3 584.0,82.0 C585.3,83.7 586.5,83.6 588.0,84.0 C589.5,84.4 591.3,84.5 593.0,84.5 C594.7,84.5 596.3,85.1 598.0,84.0 C599.7,82.9 601.3,79.9 603.0,78.0 C604.7,76.1 606.3,73.9 608.0,72.5 C609.7,71.1 611.3,69.8 613.0,69.5 C614.7,69.2 616.0,70.4 618.0,71.0 C620.0,71.6 622.2,71.8 625.0,73.0 C627.8,74.2 631.7,76.5 635.0,78.0 C638.3,79.5 641.7,81.8 645.0,82.0 C648.3,82.2 651.7,79.2 655.0,79.0 C658.3,78.8 662.2,80.2 665.0,81.0 C667.8,81.8 669.2,83.3 672.0,84.0 C674.8,84.7 680.2,84.8 681.8,85.0" fill="none" stroke="#f6868a" stroke-width="0.9" stroke-linejoin="round" stroke-linecap="round" />
<path d="M462.5,86.5 C463.9,86.3 467.8,85.5 471.0,85.5 C474.2,85.5 479.0,86.8 481.8,86.5 C484.6,86.2 485.9,84.6 488.0,83.5 C490.1,82.4 492.4,81.5 494.4,80.0 C496.4,78.5 498.2,76.2 500.0,74.5 C501.8,72.8 503.8,70.9 505.1,70.0 C506.4,69.1 507.4,69.1 508.0,69.0 C508.6,68.9 508.5,69.2 509.0,69.5 C509.5,69.8 510.4,70.1 511.0,70.5 C511.6,70.9 511.7,71.2 512.3,71.7 C512.8,72.2 513.7,73.8 514.3,73.5 C514.9,73.2 515.2,71.5 515.9,70.1 C516.6,68.7 517.9,66.0 518.3,65.0 C518.7,64.0 518.0,66.1 518.5,64.1 C519.0,62.1 520.5,55.1 521.0,53.0 C521.5,50.9 520.8,53.9 521.3,51.7 C521.8,49.5 523.1,43.5 524.0,40.0 C524.9,36.5 526.2,32.3 526.7,30.5 C527.2,28.8 526.5,30.7 527.0,29.5 C527.5,28.3 529.0,24.6 530.0,23.5 C531.0,22.4 532.0,22.5 533.0,22.8 C534.0,23.1 535.4,25.0 536.0,25.5 C536.6,26.1 536.0,24.5 536.5,26.0 C537.0,27.5 538.8,32.8 539.3,34.5 C539.8,36.2 539.3,34.1 539.8,36.0 C540.3,37.9 542.0,44.1 542.5,45.9 C543.0,47.7 542.3,45.6 542.8,47.0 C543.3,48.4 544.7,53.4 545.6,54.2 C546.5,55.0 547.5,52.4 548.0,52.0 C548.5,51.5 548.1,52.2 548.5,51.5 C548.9,50.8 549.6,49.1 550.1,48.0 C550.6,46.9 551.1,45.7 551.5,45.0 C551.9,44.3 552.0,44.5 552.5,43.9 C553.0,43.4 553.9,41.6 554.6,41.7 C555.4,41.8 556.5,43.9 557.0,44.4 C557.5,45.0 557.0,43.5 557.5,45.0 C558.0,46.5 559.5,51.7 560.0,53.3 C560.5,55.0 559.9,52.3 560.5,55.0 C561.1,57.7 562.9,66.7 563.5,69.6 C564.1,72.4 563.4,70.4 564.0,72.0 C564.6,73.6 566.5,77.9 567.1,79.3 C567.7,80.7 567.4,80.6 567.6,80.5 C567.8,80.4 568.1,79.6 568.5,78.8 C568.9,78.1 569.6,76.9 570.0,76.0 C570.4,75.1 570.5,74.8 571.0,73.7 C571.5,72.5 572.5,69.9 573.0,69.0 C573.5,68.1 573.6,68.7 574.0,68.4 C574.4,68.2 575.0,67.4 575.5,67.5 C576.0,67.6 576.5,68.3 577.0,68.8 C577.5,69.2 578.0,69.2 578.5,70.0 C579.0,70.8 579.5,72.3 580.0,73.5 C580.5,74.7 581.0,75.9 581.5,77.0 C582.0,78.1 582.4,79.0 583.0,80.2 C583.6,81.5 584.5,83.7 585.0,84.5 C585.5,85.3 585.3,84.6 586.0,84.8 C586.7,84.9 588.0,85.6 589.0,85.5 C590.0,85.4 591.3,84.6 592.0,84.4 C592.7,84.1 592.5,84.0 593.0,84.0 C593.5,84.0 594.3,84.3 595.0,84.5 C595.7,84.7 595.8,85.9 597.0,85.0 C598.2,84.1 600.3,80.7 602.0,79.0 C603.7,77.3 604.8,76.0 607.0,75.0 C609.2,74.0 612.0,73.0 615.0,73.0 C618.0,73.0 621.7,74.0 625.0,75.0 C628.3,76.0 632.3,77.5 635.0,79.0 C637.7,80.5 638.7,83.5 641.0,84.0 C643.3,84.5 646.7,82.0 649.0,82.0 C651.3,82.0 653.3,83.3 655.0,84.0 C656.7,84.7 658.0,85.5 659.0,86.0 C660.0,86.5 659.7,87.2 661.0,87.0 C662.3,86.8 665.7,85.0 667.0,84.5 C668.3,84.0 668.0,84.4 669.0,84.2 C670.0,84.0 670.9,83.4 673.0,83.6 C675.1,83.8 680.3,85.2 681.8,85.5" fill="none" stroke="#2b3cf0" stroke-width="1.4"/>
<path d="M462.5,87.5 C463.9,87.3 467.8,86.6 471.0,86.6 C474.2,86.6 479.0,87.7 481.8,87.5 C484.6,87.3 485.9,86.2 488.0,85.5 C490.1,84.8 492.4,84.0 494.4,83.0 C496.4,82.0 498.2,80.5 500.0,79.5 C501.8,78.5 503.8,77.3 505.1,76.7 C506.4,76.1 507.4,76.0 508.0,75.8 C508.6,75.6 508.5,75.6 509.0,75.5 C509.5,75.4 510.4,75.2 511.0,75.1 C511.6,75.0 511.7,75.1 512.3,74.9 C512.8,74.7 513.7,74.2 514.3,73.9 C514.9,73.6 515.2,74.6 515.9,73.1 C516.6,71.6 517.9,66.2 518.3,64.7 C518.7,63.2 518.0,65.7 518.5,64.0 C519.0,62.3 520.5,56.2 521.0,54.4 C521.5,52.7 520.8,55.4 521.3,53.3 C521.8,51.2 523.1,45.6 524.0,42.0 C524.9,38.4 526.2,33.6 526.7,31.8 C527.2,30.0 526.5,32.4 527.0,31.1 C527.5,29.8 529.0,25.5 530.0,24.0 C531.0,22.5 532.0,21.6 533.0,21.9 C534.0,22.2 535.4,25.1 536.0,26.0 C536.6,26.9 536.0,25.9 536.5,27.4 C537.0,29.0 538.8,33.7 539.3,35.4 C539.8,37.1 539.3,35.2 539.8,37.7 C540.3,40.1 542.0,47.7 542.5,50.0 C543.0,52.3 542.3,49.0 542.8,51.5 C543.3,54.0 544.7,63.2 545.6,65.0 C546.5,66.8 547.5,62.6 548.0,62.0 C548.5,61.4 548.1,61.8 548.5,61.4 C548.9,61.0 549.6,60.5 550.1,59.5 C550.6,58.5 551.1,56.6 551.5,55.4 C551.9,54.3 552.0,53.7 552.5,52.5 C553.0,51.3 553.9,48.6 554.6,48.5 C555.4,48.4 556.5,51.2 557.0,52.0 C557.5,52.8 557.0,52.0 557.5,53.2 C558.0,54.5 559.5,58.2 560.0,59.5 C560.5,60.8 559.9,59.2 560.5,61.1 C561.1,63.1 562.9,69.1 563.5,71.0 C564.1,72.9 563.4,70.7 564.0,72.4 C564.6,74.1 566.5,79.8 567.1,81.2 C567.7,82.6 567.4,81.1 567.6,80.9 C567.8,80.8 568.1,81.4 568.5,80.5 C568.9,79.6 569.6,76.8 570.0,75.4 C570.4,74.0 570.5,72.9 571.0,72.0 C571.5,71.1 572.5,70.5 573.0,70.0 C573.5,69.5 573.6,69.0 574.0,69.0 C574.4,69.0 575.0,69.5 575.5,69.8 C576.0,70.0 576.5,70.1 577.0,70.5 C577.5,70.9 578.0,71.7 578.5,72.2 C579.0,72.8 579.5,73.2 580.0,74.0 C580.5,74.8 581.0,76.0 581.5,77.0 C582.0,78.0 582.4,78.8 583.0,80.0 C583.6,81.2 584.5,83.0 585.0,84.0 C585.5,85.0 585.3,85.8 586.0,86.0 C586.7,86.2 588.0,85.5 589.0,85.0 C590.0,84.5 591.3,83.2 592.0,83.0 C592.7,82.8 592.5,83.3 593.0,83.7 C593.5,84.0 594.3,84.8 595.0,85.0 C595.7,85.2 595.8,86.2 597.0,85.0 C598.2,83.8 600.3,80.0 602.0,78.0 C603.7,76.0 604.8,74.1 607.0,73.0 C609.2,71.9 612.0,71.4 615.0,71.6 C618.0,71.8 621.7,73.3 625.0,74.0 C628.3,74.7 632.3,75.7 635.0,76.0 C637.7,76.3 638.7,75.9 641.0,75.8 C643.3,75.8 646.7,75.2 649.0,75.6 C651.3,76.0 653.3,77.5 655.0,78.2 C656.7,79.0 658.0,79.6 659.0,80.0 C660.0,80.4 659.7,80.2 661.0,80.6 C662.3,81.0 665.7,82.0 667.0,82.4 C668.3,82.8 668.0,82.7 669.0,83.0 C670.0,83.3 670.9,83.4 673.0,83.9 C675.1,84.4 680.3,85.7 681.8,86.0" fill="none" stroke="#f0242c" stroke-width="1.6"/>
<path d="M462.5,139.2 C465.5,139.0 476.3,138.7 480.4,138.2 C484.5,137.7 484.9,136.7 487.0,135.9 C489.1,135.1 491.8,134.1 493.2,133.6 C494.6,133.1 494.0,133.4 495.1,132.8 C496.2,132.2 498.5,130.9 500.0,130.0 C501.5,129.1 503.0,128.2 504.0,127.6 C505.0,127.1 505.5,126.7 506.1,126.6 C506.8,126.5 507.2,126.9 507.9,127.2 C508.5,127.5 509.4,127.7 510.0,128.1 C510.6,128.6 510.8,128.9 511.5,129.7 C512.2,130.5 513.7,133.1 514.3,133.1 C514.9,133.1 514.7,132.1 515.3,129.8 C515.9,127.4 517.4,121.3 518.0,118.9 C518.6,116.5 518.2,118.1 519.0,115.3 C519.8,112.6 521.9,105.0 522.6,102.4 C523.4,99.8 522.9,101.6 523.5,99.8 C524.1,97.9 525.8,93.2 526.5,91.3 C527.2,89.4 527.4,89.3 528.0,88.2 C528.6,87.1 529.1,85.6 530.0,84.5 C530.9,83.3 532.4,81.5 533.6,81.3 C534.8,81.1 536.3,82.6 537.0,83.1 C537.7,83.7 537.2,83.2 538.0,84.4 C538.8,85.6 541.2,89.2 542.0,90.4 C542.8,91.6 542.0,90.7 542.8,91.6 C543.5,92.4 545.6,95.0 546.5,95.8 C547.4,96.5 547.4,96.0 548.0,96.3 C548.6,96.5 549.0,96.8 550.0,97.2 C551.0,97.7 553.0,98.7 553.8,99.2 C554.6,99.7 554.2,99.3 554.7,100.0 C555.2,100.7 555.9,102.2 556.5,103.6 C557.1,104.9 558.0,107.0 558.5,108.1 C559.0,109.1 558.5,108.0 559.3,110.1 C560.0,112.2 561.6,117.5 563.0,120.9 C564.4,124.3 566.5,129.0 567.6,130.5 C568.7,132.0 569.1,130.0 569.5,129.8 C569.9,129.6 569.6,130.0 570.0,129.4 C570.4,128.8 571.2,127.1 572.0,126.1 C572.8,125.1 574.5,123.8 575.0,123.4 C575.5,123.0 574.5,122.5 575.2,123.6 C575.9,124.6 577.6,127.4 579.0,129.8 C580.4,132.2 582.1,136.5 583.4,137.8 C584.7,139.0 585.6,137.7 587.0,137.5 C588.4,137.3 590.0,136.6 591.5,136.7 C593.0,136.9 594.3,138.2 596.0,138.5 C597.7,138.8 600.0,139.3 601.7,138.8 C603.4,138.3 605.1,136.1 606.0,135.4 C606.9,134.7 606.0,135.4 607.0,134.7 C608.0,134.0 610.1,131.9 612.0,131.3 C613.9,130.7 616.8,130.9 618.1,130.9 C619.5,130.9 619.0,131.0 620.1,131.3 C621.2,131.6 623.3,132.1 625.0,132.7 C626.7,133.3 629.1,134.6 630.3,135.2 C631.5,135.7 630.0,135.5 632.0,135.8 C634.0,136.1 640.2,136.8 642.6,137.1 C645.0,137.4 643.9,137.3 646.6,137.4 C649.3,137.5 656.7,137.6 658.9,137.7 C661.1,137.8 658.1,137.7 660.0,137.8 C661.9,137.9 668.1,138.2 670.0,138.3 C671.9,138.4 669.1,138.2 671.1,138.4 C673.1,138.6 680.0,139.2 681.8,139.4" fill="none" stroke="#5a66f4" stroke-width="0.9"/>
<path d="M462.5,139.4 C465.5,139.2 476.3,138.9 480.4,138.4 C484.5,137.9 484.9,137.0 487.0,136.3 C489.1,135.6 491.8,134.6 493.2,134.0 C494.6,133.5 494.0,133.7 495.1,133.0 C496.2,132.4 498.5,131.0 500.0,130.0 C501.5,129.0 503.0,127.8 504.0,127.2 C505.0,126.6 505.5,126.4 506.1,126.2 C506.8,126.1 507.2,126.3 507.9,126.5 C508.5,126.6 509.4,126.9 510.0,127.3 C510.6,127.6 510.8,127.8 511.5,128.5 C512.2,129.3 513.7,131.6 514.3,131.8 C514.9,132.0 514.7,131.5 515.3,129.5 C515.9,127.5 517.4,121.9 518.0,119.8 C518.6,117.6 518.2,119.1 519.0,116.5 C519.8,113.9 521.9,106.8 522.6,104.3 C523.4,101.9 522.9,103.6 523.5,101.8 C524.1,100.0 525.8,95.5 526.5,93.6 C527.2,91.7 527.4,91.5 528.0,90.4 C528.6,89.3 529.1,88.1 530.0,86.9 C530.9,85.7 532.4,83.5 533.6,83.3 C534.8,83.2 536.3,85.2 537.0,85.8 C537.7,86.4 537.2,85.6 538.0,87.0 C538.8,88.4 541.2,92.9 542.0,94.3 C542.8,95.8 542.0,94.5 542.8,95.6 C543.5,96.7 545.6,100.0 546.5,100.8 C547.4,101.6 547.4,100.6 548.0,100.6 C548.6,100.5 549.0,100.5 550.0,100.4 C551.0,100.4 553.0,100.3 553.8,100.4 C554.6,100.5 554.2,100.5 554.7,101.1 C555.2,101.7 555.9,102.8 556.5,103.9 C557.1,105.1 558.0,107.1 558.5,108.1 C559.0,109.1 558.5,107.8 559.3,110.0 C560.0,112.2 561.6,117.5 563.0,121.2 C564.4,124.9 566.5,130.4 567.6,132.2 C568.7,134.0 569.1,132.0 569.5,131.9 C569.9,131.7 569.6,132.0 570.0,131.3 C570.4,130.7 571.2,129.2 572.0,128.0 C572.8,126.7 574.5,124.5 575.0,123.8 C575.5,123.1 574.5,122.8 575.2,123.8 C575.9,124.8 577.6,127.2 579.0,129.6 C580.4,132.0 582.1,136.7 583.4,138.0 C584.7,139.3 585.6,137.8 587.0,137.5 C588.4,137.2 590.0,136.4 591.5,136.5 C593.0,136.6 594.3,137.8 596.0,138.0 C597.7,138.2 600.0,138.4 601.7,137.8 C603.4,137.1 605.1,134.8 606.0,134.0 C606.9,133.3 606.0,134.0 607.0,133.4 C608.0,132.7 610.1,130.6 612.0,130.1 C613.9,129.6 616.8,130.1 618.1,130.2 C619.5,130.3 619.0,130.3 620.1,130.6 C621.2,131.0 623.3,131.7 625.0,132.4 C626.7,133.1 629.1,134.5 630.3,135.0 C631.5,135.6 630.0,135.3 632.0,135.6 C634.0,135.9 640.2,136.7 642.6,136.9 C645.0,137.1 643.9,137.0 646.6,137.0 C649.3,137.0 656.7,137.0 658.9,136.9 C661.1,136.9 658.1,136.9 660.0,137.0 C661.9,137.1 668.1,137.5 670.0,137.6 C671.9,137.8 669.1,137.5 671.1,137.7 C673.1,138.0 680.0,138.8 681.8,139.0" fill="none" stroke="#a4a8fa" stroke-width="0.8"/>
<path d="M462.5,139.5 C465.5,139.4 476.3,139.1 480.4,138.6 C484.5,138.1 484.9,137.4 487.0,136.7 C489.1,136.0 491.8,135.0 493.2,134.5 C494.6,133.9 494.0,134.0 495.1,133.3 C496.2,132.5 498.5,131.1 500.0,130.0 C501.5,128.9 503.0,127.5 504.0,126.8 C505.0,126.1 505.5,126.0 506.1,125.9 C506.8,125.7 507.2,125.7 507.9,125.7 C508.5,125.8 509.4,126.2 510.0,126.4 C510.6,126.7 510.8,126.7 511.5,127.4 C512.2,128.0 513.7,130.2 514.3,130.5 C514.9,130.8 514.7,131.0 515.3,129.3 C515.9,127.7 517.4,122.6 518.0,120.6 C518.6,118.7 518.2,120.1 519.0,117.7 C519.8,115.3 521.9,108.6 522.6,106.3 C523.4,104.0 522.9,105.5 523.5,103.8 C524.1,102.1 525.8,97.8 526.5,96.0 C527.2,94.1 527.4,93.7 528.0,92.6 C528.6,91.5 529.1,90.6 530.0,89.4 C530.9,88.2 532.4,85.5 533.6,85.4 C534.8,85.2 536.3,87.7 537.0,88.4 C537.7,89.2 537.2,88.1 538.0,89.7 C538.8,91.3 541.2,96.5 542.0,98.2 C542.8,99.9 542.0,98.4 542.8,99.7 C543.5,100.9 545.6,105.0 546.5,105.9 C547.4,106.7 547.4,105.2 548.0,104.9 C548.6,104.5 549.0,104.2 550.0,103.6 C551.0,103.1 553.0,101.9 553.8,101.6 C554.6,101.4 554.2,101.8 554.7,102.2 C555.2,102.6 555.9,103.3 556.5,104.3 C557.1,105.3 558.0,107.2 558.5,108.2 C559.0,109.1 558.5,107.6 559.3,109.9 C560.0,112.1 561.6,117.4 563.0,121.4 C564.4,125.4 566.5,131.7 567.6,133.8 C568.7,135.9 569.1,134.0 569.5,133.9 C569.9,133.8 569.6,133.9 570.0,133.3 C570.4,132.6 571.2,131.3 572.0,129.8 C572.8,128.3 574.5,125.2 575.0,124.2 C575.5,123.3 574.5,123.2 575.2,124.0 C575.9,124.9 577.6,127.0 579.0,129.4 C580.4,131.8 582.1,136.9 583.4,138.3 C584.7,139.6 585.6,137.8 587.0,137.5 C588.4,137.2 590.0,136.2 591.5,136.2 C593.0,136.2 594.3,137.4 596.0,137.5 C597.7,137.6 600.0,137.5 601.7,136.7 C603.4,135.9 605.1,133.5 606.0,132.7 C606.9,131.9 606.0,132.7 607.0,132.1 C608.0,131.4 610.1,129.3 612.0,128.9 C613.9,128.5 616.8,129.3 618.1,129.5 C619.5,129.7 619.0,129.5 620.1,130.0 C621.2,130.4 623.3,131.3 625.0,132.1 C626.7,132.9 629.1,134.4 630.3,134.9 C631.5,135.5 630.0,135.1 632.0,135.4 C634.0,135.6 640.2,136.5 642.6,136.7 C645.0,136.9 643.9,136.7 646.6,136.7 C649.3,136.6 656.7,136.3 658.9,136.2 C661.1,136.1 658.1,136.1 660.0,136.3 C661.9,136.4 668.1,136.8 670.0,137.0 C671.9,137.1 669.1,136.8 671.1,137.0 C673.1,137.3 680.0,138.3 681.8,138.6" fill="none" stroke="#f8b4b6" stroke-width="0.8"/>
<path d="M462.5,139.7 C465.5,139.6 476.3,139.2 480.4,138.8 C484.5,138.4 484.9,137.8 487.0,137.1 C489.1,136.4 491.8,135.5 493.2,134.9 C494.6,134.3 494.0,134.4 495.1,133.6 C496.2,132.7 498.5,131.2 500.0,130.0 C501.5,128.8 503.0,127.2 504.0,126.4 C505.0,125.7 505.5,125.7 506.1,125.5 C506.8,125.2 507.2,125.0 507.9,125.0 C508.5,125.0 509.4,125.4 510.0,125.6 C510.6,125.8 510.8,125.6 511.5,126.2 C512.2,126.8 513.7,128.7 514.3,129.2 C514.9,129.7 514.7,130.4 515.3,129.1 C515.9,127.8 517.4,123.2 518.0,121.5 C518.6,119.8 518.2,121.0 519.0,118.8 C519.8,116.6 521.9,110.4 522.6,108.3 C523.4,106.1 522.9,107.5 523.5,105.8 C524.1,104.1 525.8,100.1 526.5,98.3 C527.2,96.4 527.4,95.9 528.0,94.8 C528.6,93.7 529.1,93.1 530.0,91.8 C530.9,90.6 532.4,87.5 533.6,87.4 C534.8,87.3 536.3,90.3 537.0,91.1 C537.7,91.9 537.2,90.5 538.0,92.3 C538.8,94.2 541.2,100.2 542.0,102.1 C542.8,104.0 542.0,102.2 542.8,103.7 C543.5,105.2 545.6,110.0 546.5,110.9 C547.4,111.8 547.4,109.8 548.0,109.1 C548.6,108.5 549.0,107.9 550.0,106.8 C551.0,105.8 553.0,103.5 553.8,102.9 C554.6,102.3 554.2,103.0 554.7,103.3 C555.2,103.6 555.9,103.8 556.5,104.6 C557.1,105.5 558.0,107.4 558.5,108.2 C559.0,109.1 558.5,107.5 559.3,109.7 C560.0,112.0 561.6,117.4 563.0,121.7 C564.4,126.0 566.5,133.1 567.6,135.5 C568.7,137.8 569.1,136.0 569.5,136.0 C569.9,135.9 569.6,135.9 570.0,135.2 C570.4,134.5 571.2,133.4 572.0,131.7 C572.8,129.9 574.5,125.9 575.0,124.7 C575.5,123.4 574.5,123.5 575.2,124.3 C575.9,125.0 577.6,126.8 579.0,129.2 C580.4,131.6 582.1,137.2 583.4,138.5 C584.7,139.9 585.6,137.9 587.0,137.5 C588.4,137.1 590.0,136.0 591.5,136.0 C593.0,135.9 594.3,137.0 596.0,137.0 C597.7,137.0 600.0,136.7 601.7,135.7 C603.4,134.8 605.1,132.2 606.0,131.3 C606.9,130.5 606.0,131.3 607.0,130.7 C608.0,130.1 610.1,128.0 612.0,127.7 C613.9,127.4 616.8,128.5 618.1,128.8 C619.5,129.0 619.0,128.8 620.1,129.3 C621.2,129.8 623.3,130.9 625.0,131.8 C626.7,132.7 629.1,134.3 630.3,134.8 C631.5,135.4 630.0,134.9 632.0,135.1 C634.0,135.4 640.2,136.3 642.6,136.5 C645.0,136.7 643.9,136.5 646.6,136.3 C649.3,136.1 656.7,135.6 658.9,135.4 C661.1,135.3 658.1,135.4 660.0,135.5 C661.9,135.7 668.1,136.1 670.0,136.3 C671.9,136.4 669.1,136.1 671.1,136.4 C673.1,136.7 680.0,137.9 681.8,138.2" fill="none" stroke="#f47a7e" stroke-width="0.9"/>
<path d="M462.5,139.0 C465.5,138.8 476.3,138.6 480.4,138.0 C484.5,137.4 484.9,136.3 487.0,135.5 C489.1,134.7 491.8,133.7 493.2,133.2 C494.6,132.7 494.0,133.0 495.1,132.5 C496.2,132.0 498.5,130.7 500.0,130.0 C501.5,129.3 503.0,128.5 504.0,128.0 C505.0,127.5 505.5,127.0 506.1,127.0 C506.8,127.0 507.2,127.6 507.9,127.9 C508.5,128.3 509.4,128.5 510.0,129.0 C510.6,129.5 510.8,130.0 511.5,130.9 C512.2,131.8 513.7,134.6 514.3,134.4 C514.9,134.2 514.7,132.7 515.3,130.0 C515.9,127.2 517.4,120.6 518.0,118.0 C518.6,115.4 518.2,117.1 519.0,114.2 C519.8,111.2 521.9,103.1 522.6,100.4 C523.4,97.7 522.9,99.7 523.5,97.8 C524.1,95.9 525.8,91.0 526.5,89.0 C527.2,87.0 527.4,87.2 528.0,86.0 C528.6,84.8 529.1,83.1 530.0,82.0 C530.9,80.9 532.4,79.5 533.6,79.3 C534.8,79.0 536.3,80.1 537.0,80.5 C537.7,80.9 537.2,80.7 538.0,81.7 C538.8,82.7 541.2,85.6 542.0,86.5 C542.8,87.5 542.0,86.8 542.8,87.5 C543.5,88.2 545.6,90.0 546.5,90.7 C547.4,91.5 547.4,91.4 548.0,92.0 C548.6,92.6 549.0,93.1 550.0,94.1 C551.0,95.1 553.0,97.2 553.8,98.0 C554.6,98.8 554.2,98.0 554.7,98.9 C555.2,99.8 555.9,101.7 556.5,103.2 C557.1,104.7 558.0,106.8 558.5,108.0 C559.0,109.2 558.5,108.1 559.3,110.2 C560.0,112.3 561.6,117.5 563.0,120.6 C564.4,123.7 566.5,127.7 567.6,128.9 C568.7,130.1 569.1,128.0 569.5,127.8 C569.9,127.6 569.6,128.1 570.0,127.5 C570.4,126.9 571.2,125.0 572.0,124.3 C572.8,123.5 574.5,123.2 575.0,123.0 C575.5,122.8 574.5,122.2 575.2,123.4 C575.9,124.5 577.6,127.6 579.0,130.0 C580.4,132.4 582.1,136.2 583.4,137.5 C584.7,138.8 585.6,137.6 587.0,137.5 C588.4,137.4 590.0,136.8 591.5,137.0 C593.0,137.2 594.3,138.5 596.0,139.0 C597.7,139.5 600.0,140.2 601.7,139.8 C603.4,139.4 605.1,137.4 606.0,136.7 C606.9,136.1 606.0,136.7 607.0,136.0 C608.0,135.3 610.1,133.2 612.0,132.5 C613.9,131.8 616.8,131.7 618.1,131.6 C619.5,131.5 619.0,131.8 620.1,132.0 C621.2,132.2 623.3,132.5 625.0,133.0 C626.7,133.5 629.1,134.8 630.3,135.3 C631.5,135.8 630.0,135.7 632.0,136.0 C634.0,136.3 640.2,137.0 642.6,137.3 C645.0,137.6 643.9,137.6 646.6,137.8 C649.3,138.0 656.7,138.3 658.9,138.4 C661.1,138.6 658.1,138.4 660.0,138.5 C661.9,138.6 668.1,138.9 670.0,139.0 C671.9,139.1 669.1,138.9 671.1,139.1 C673.1,139.2 680.0,139.7 681.8,139.8" fill="none" stroke="#2b3cf0" stroke-width="1.4"/>
<path d="M462.5,139.9 C465.5,139.8 476.3,139.4 480.4,139.0 C484.5,138.6 484.9,138.1 487.0,137.5 C489.1,136.9 491.8,135.9 493.2,135.3 C494.6,134.7 494.0,134.7 495.1,133.8 C496.2,132.9 498.5,131.3 500.0,130.0 C501.5,128.7 503.0,126.8 504.0,126.0 C505.0,125.2 505.5,125.4 506.1,125.1 C506.8,124.8 507.2,124.4 507.9,124.3 C508.5,124.2 509.4,124.6 510.0,124.7 C510.6,124.8 510.8,124.5 511.5,125.0 C512.2,125.5 513.7,127.2 514.3,127.9 C514.9,128.5 514.7,129.8 515.3,128.9 C515.9,128.0 517.4,123.9 518.0,122.4 C518.6,120.9 518.2,122.0 519.0,120.0 C519.8,118.0 521.9,112.3 522.6,110.2 C523.4,108.2 522.9,109.4 523.5,107.8 C524.1,106.2 525.8,102.4 526.5,100.6 C527.2,98.8 527.4,98.1 528.0,97.0 C528.6,95.9 529.1,95.6 530.0,94.3 C530.9,93.0 532.4,89.5 533.6,89.4 C534.8,89.3 536.3,92.8 537.0,93.7 C537.7,94.7 537.2,93.0 538.0,95.0 C538.8,97.0 541.2,103.9 542.0,106.0 C542.8,108.1 542.0,106.1 542.8,107.8 C543.5,109.4 545.6,115.1 546.5,116.0 C547.4,116.9 547.4,114.4 548.0,113.4 C548.6,112.4 549.0,111.6 550.0,110.0 C551.0,108.4 553.0,105.0 553.8,104.1 C554.6,103.2 554.2,104.2 554.7,104.4 C555.2,104.6 555.9,104.4 556.5,105.0 C557.1,105.6 558.0,107.5 558.5,108.3 C559.0,109.1 558.5,107.3 559.3,109.6 C560.0,111.9 561.6,117.4 563.0,122.0 C564.4,126.6 566.5,134.4 567.6,137.1 C568.7,139.8 569.1,138.0 569.5,138.0 C569.9,138.0 569.6,137.9 570.0,137.1 C570.4,136.4 571.2,135.5 572.0,133.5 C572.8,131.5 574.5,126.6 575.0,125.1 C575.5,123.6 574.5,123.8 575.2,124.5 C575.9,125.2 577.6,126.6 579.0,129.0 C580.4,131.4 582.1,137.4 583.4,138.8 C584.7,140.2 585.6,138.0 587.0,137.5 C588.4,137.0 590.0,135.9 591.5,135.7 C593.0,135.5 594.3,136.7 596.0,136.5 C597.7,136.3 600.0,135.8 601.7,134.7 C603.4,133.6 605.1,130.9 606.0,130.0 C606.9,129.1 606.0,130.0 607.0,129.4 C608.0,128.8 610.1,126.7 612.0,126.5 C613.9,126.3 616.8,127.7 618.1,128.1 C619.5,128.4 619.0,128.0 620.1,128.6 C621.2,129.2 623.3,130.5 625.0,131.5 C626.7,132.5 629.1,134.1 630.3,134.7 C631.5,135.3 630.0,134.7 632.0,134.9 C634.0,135.2 640.2,136.1 642.6,136.3 C645.0,136.5 643.9,136.2 646.6,135.9 C649.3,135.6 656.7,134.9 658.9,134.7 C661.1,134.5 658.1,134.6 660.0,134.8 C661.9,134.9 668.1,135.5 670.0,135.6 C671.9,135.8 669.1,135.3 671.1,135.7 C673.1,136.1 680.0,137.5 681.8,137.8" fill="none" stroke="#f0242c" stroke-width="1.6"/>
<path d="M462.5,187.9 C463.8,187.7 467.7,186.8 470.4,186.7 C473.1,186.6 475.9,188.1 478.7,187.6 C481.5,187.0 484.6,184.3 487.1,183.3 C489.6,182.3 491.7,182.4 493.8,181.4 C495.9,180.3 498.3,178.3 500.0,177.2 C501.7,176.1 502.6,174.8 503.9,174.7 C505.2,174.5 507.2,175.8 508.0,176.3 C508.8,176.7 508.3,176.5 508.9,177.2 C509.5,177.9 510.8,179.9 511.5,180.4 C512.2,180.8 512.7,180.1 513.1,179.9 C513.5,179.6 513.5,180.0 514.0,178.8 C514.5,177.5 515.5,173.9 516.0,172.3 C516.5,170.6 516.5,170.5 517.0,168.9 C517.5,167.2 518.5,164.0 518.9,162.6 C519.3,161.2 519.0,162.6 519.5,160.5 C520.0,158.5 521.5,152.4 522.0,150.4 C522.5,148.4 521.9,150.4 522.5,148.5 C523.1,146.6 525.0,140.8 525.6,139.0 C526.2,137.2 525.4,138.9 526.0,137.8 C526.6,136.6 528.3,133.2 529.0,132.0 C529.7,130.8 529.5,130.9 530.0,130.3 C530.5,129.7 531.5,129.0 532.3,128.4 C533.1,127.8 534.2,127.1 534.8,126.9 C535.4,126.7 535.0,126.9 535.7,127.2 C536.4,127.5 537.9,128.2 539.0,128.9 C540.1,129.6 541.7,131.0 542.4,131.5 C543.1,132.0 542.2,131.4 543.0,131.9 C543.8,132.5 545.6,133.7 547.0,134.8 C548.4,135.9 550.7,137.4 551.6,138.3 C552.5,139.2 551.8,138.8 552.4,140.2 C553.0,141.6 554.4,145.3 555.0,146.8 C555.6,148.4 555.3,147.7 556.0,149.6 C556.7,151.5 558.5,156.9 559.0,158.4 C559.5,159.9 558.7,157.3 559.1,158.7 C559.5,160.1 561.0,165.1 561.5,166.7 C562.0,168.3 561.6,167.3 562.0,168.3 C562.4,169.3 563.6,171.8 564.1,172.8 C564.6,173.9 564.6,174.0 565.0,174.5 C565.4,174.9 565.8,175.1 566.5,175.4 C567.2,175.7 568.6,176.3 569.0,176.5 C569.4,176.7 568.6,176.7 569.1,176.5 C569.6,176.3 571.0,175.5 572.0,175.2 C573.0,174.8 573.8,173.9 575.0,174.4 C576.2,174.9 577.8,176.6 579.0,177.9 C580.2,179.2 581.8,181.5 582.5,182.4 C583.2,183.3 582.5,182.7 583.0,183.1 C583.5,183.5 584.6,184.3 585.4,184.7 C586.2,185.1 587.2,185.3 588.0,185.5 C588.8,185.6 588.8,185.5 590.0,185.5 C591.2,185.6 594.0,185.7 595.0,185.7 C596.0,185.8 595.2,185.7 596.0,185.8 C596.8,186.0 599.2,186.3 600.0,186.5 C600.8,186.6 600.0,186.7 601.0,186.6 C602.0,186.4 604.8,185.9 605.8,185.7 C606.8,185.5 606.0,185.9 607.0,185.4 C608.0,184.8 611.0,182.9 612.0,182.3 C613.0,181.7 612.0,182.0 613.0,181.8 C614.0,181.5 617.1,180.7 618.1,180.5 C619.1,180.3 618.0,180.2 619.0,180.4 C620.0,180.5 623.0,181.4 624.0,181.6 C625.0,181.8 624.0,181.6 625.0,181.8 C626.0,182.0 629.1,182.6 630.3,182.8 C631.5,183.1 629.3,182.6 632.0,183.2 C634.7,183.8 640.8,185.9 646.6,186.3 C652.4,186.8 661.1,186.1 667.0,186.1 C672.9,186.2 679.3,186.7 681.8,186.8" fill="none" stroke="#5a66f4" stroke-width="0.9"/>
<path d="M462.5,187.9 C463.8,187.7 467.7,186.7 470.4,186.7 C473.1,186.7 475.9,188.2 478.7,187.7 C481.5,187.1 484.6,184.6 487.1,183.6 C489.6,182.6 491.7,182.8 493.8,181.7 C495.9,180.7 498.3,178.6 500.0,177.4 C501.7,176.2 502.6,175.0 503.9,174.8 C505.2,174.7 507.2,176.1 508.0,176.5 C508.8,177.0 508.3,176.6 508.9,177.3 C509.5,178.0 510.8,180.2 511.5,180.8 C512.2,181.4 512.7,181.2 513.1,181.0 C513.5,180.8 513.5,180.9 514.0,179.5 C514.5,178.2 515.5,174.8 516.0,173.2 C516.5,171.6 516.5,171.4 517.0,169.7 C517.5,168.0 518.5,164.7 518.9,163.2 C519.3,161.8 519.0,163.1 519.5,161.1 C520.0,159.0 521.5,152.8 522.0,150.8 C522.5,148.8 521.9,150.9 522.5,149.0 C523.1,147.2 525.0,141.4 525.6,139.7 C526.2,137.9 525.4,139.7 526.0,138.5 C526.6,137.3 528.3,133.6 529.0,132.2 C529.7,130.9 529.5,131.3 530.0,130.6 C530.5,130.0 531.5,129.0 532.3,128.4 C533.1,127.8 534.2,127.3 534.8,127.1 C535.4,127.0 535.0,126.9 535.7,127.3 C536.4,127.7 537.9,128.4 539.0,129.3 C540.1,130.2 541.7,131.8 542.4,132.4 C543.1,133.0 542.2,132.3 543.0,132.9 C543.8,133.5 545.6,134.9 547.0,136.1 C548.4,137.3 550.7,139.0 551.6,139.9 C552.5,140.7 551.8,140.2 552.4,141.5 C553.0,142.8 554.4,146.2 555.0,147.6 C555.6,149.1 555.3,148.3 556.0,150.2 C556.7,152.1 558.5,157.3 559.0,158.8 C559.5,160.3 558.7,157.7 559.1,159.1 C559.5,160.5 561.0,165.4 561.5,167.0 C562.0,168.6 561.6,167.5 562.0,168.6 C562.4,169.6 563.6,172.4 564.1,173.4 C564.6,174.5 564.6,174.5 565.0,174.9 C565.4,175.4 565.8,175.7 566.5,176.1 C567.2,176.4 568.6,176.9 569.0,177.0 C569.4,177.2 568.6,177.2 569.1,177.0 C569.6,176.8 571.0,176.2 572.0,175.8 C573.0,175.5 573.8,174.5 575.0,174.8 C576.2,175.1 577.8,176.5 579.0,177.8 C580.2,179.1 581.8,181.5 582.5,182.4 C583.2,183.3 582.5,182.7 583.0,183.2 C583.5,183.7 584.6,185.0 585.4,185.5 C586.2,186.0 587.2,185.9 588.0,185.9 C588.8,186.0 588.8,185.9 590.0,185.9 C591.2,185.9 594.0,185.9 595.0,185.9 C596.0,186.0 595.2,185.9 596.0,186.0 C596.8,186.1 599.2,186.5 600.0,186.6 C600.8,186.7 600.0,186.8 601.0,186.6 C602.0,186.5 604.8,185.9 605.8,185.7 C606.8,185.5 606.0,185.8 607.0,185.2 C608.0,184.6 611.0,182.6 612.0,181.9 C613.0,181.3 612.0,181.8 613.0,181.5 C614.0,181.2 617.1,180.5 618.1,180.3 C619.1,180.1 618.0,180.0 619.0,180.2 C620.0,180.4 623.0,181.2 624.0,181.4 C625.0,181.7 624.0,181.5 625.0,181.6 C626.0,181.8 629.1,182.3 630.3,182.5 C631.5,182.7 629.3,182.3 632.0,182.9 C634.7,183.5 640.8,185.6 646.6,186.2 C652.4,186.7 661.1,186.1 667.0,186.3 C672.9,186.4 679.3,186.9 681.8,187.0" fill="none" stroke="#a4a8fa" stroke-width="0.8"/>
<path d="M462.5,187.9 C463.8,187.7 467.7,186.7 470.4,186.7 C473.1,186.7 475.9,188.2 478.7,187.7 C481.5,187.3 484.6,184.8 487.1,183.9 C489.6,183.0 491.7,183.1 493.8,182.1 C495.9,181.0 498.3,178.8 500.0,177.6 C501.7,176.4 502.6,175.1 503.9,175.0 C505.2,174.8 507.2,176.4 508.0,176.8 C508.8,177.2 508.3,176.8 508.9,177.5 C509.5,178.2 510.8,180.4 511.5,181.2 C512.2,182.0 512.7,182.3 513.1,182.2 C513.5,182.0 513.5,181.7 514.0,180.3 C514.5,179.0 515.5,175.8 516.0,174.1 C516.5,172.5 516.5,172.3 517.0,170.6 C517.5,168.9 518.5,165.4 518.9,163.9 C519.3,162.4 519.0,163.7 519.5,161.6 C520.0,159.5 521.5,153.2 522.0,151.2 C522.5,149.2 521.9,151.4 522.5,149.6 C523.1,147.7 525.0,142.1 525.6,140.4 C526.2,138.7 525.4,140.6 526.0,139.3 C526.6,137.9 528.3,133.9 529.0,132.5 C529.7,131.1 529.5,131.6 530.0,131.0 C530.5,130.3 531.5,129.0 532.3,128.4 C533.1,127.8 534.2,127.5 534.8,127.4 C535.4,127.2 535.0,127.0 535.7,127.4 C536.4,127.8 537.9,128.7 539.0,129.7 C540.1,130.7 541.7,132.6 542.4,133.3 C543.1,134.0 542.2,133.2 543.0,133.8 C543.8,134.5 545.6,136.1 547.0,137.4 C548.4,138.7 550.7,140.5 551.6,141.4 C552.5,142.3 551.8,141.5 552.4,142.7 C553.0,143.9 554.4,147.1 555.0,148.5 C555.6,149.8 555.3,149.0 556.0,150.8 C556.7,152.6 558.5,157.7 559.0,159.2 C559.5,160.6 558.7,158.1 559.1,159.5 C559.5,160.8 561.0,165.8 561.5,167.3 C562.0,168.9 561.6,167.7 562.0,168.8 C562.4,170.0 563.6,173.0 564.1,174.1 C564.6,175.2 564.6,174.9 565.0,175.4 C565.4,175.8 565.8,176.3 566.5,176.7 C567.2,177.1 568.6,177.4 569.0,177.5 C569.4,177.7 568.6,177.7 569.1,177.5 C569.6,177.4 571.0,176.9 572.0,176.5 C573.0,176.1 573.8,175.0 575.0,175.2 C576.2,175.4 577.8,176.5 579.0,177.7 C580.2,178.9 581.8,181.5 582.5,182.4 C583.2,183.4 582.5,182.6 583.0,183.2 C583.5,183.9 584.6,185.7 585.4,186.3 C586.2,186.8 587.2,186.4 588.0,186.4 C588.8,186.4 588.8,186.3 590.0,186.3 C591.2,186.2 594.0,186.2 595.0,186.2 C596.0,186.1 595.2,186.1 596.0,186.2 C596.8,186.3 599.2,186.7 600.0,186.7 C600.8,186.8 600.0,186.8 601.0,186.7 C602.0,186.5 604.8,186.0 605.8,185.7 C606.8,185.4 606.0,185.8 607.0,185.1 C608.0,184.4 611.0,182.3 612.0,181.6 C613.0,181.0 612.0,181.5 613.0,181.3 C614.0,181.0 617.1,180.2 618.1,180.1 C619.1,179.9 618.0,179.9 619.0,180.1 C620.0,180.3 623.0,181.1 624.0,181.3 C625.0,181.5 624.0,181.3 625.0,181.5 C626.0,181.6 629.1,182.0 630.3,182.2 C631.5,182.4 629.3,182.0 632.0,182.6 C634.7,183.3 640.8,185.4 646.6,186.0 C652.4,186.7 661.1,186.2 667.0,186.4 C672.9,186.6 679.3,187.1 681.8,187.3" fill="none" stroke="#f8b4b6" stroke-width="0.8"/>
<path d="M462.5,187.9 C463.8,187.7 467.7,186.7 470.4,186.7 C473.1,186.7 475.9,188.2 478.7,187.8 C481.5,187.4 484.6,185.1 487.1,184.2 C489.6,183.3 491.7,183.5 493.8,182.4 C495.9,181.4 498.3,179.0 500.0,177.8 C501.7,176.6 502.6,175.3 503.9,175.1 C505.2,175.0 507.2,176.7 508.0,177.1 C508.8,177.5 508.3,176.9 508.9,177.6 C509.5,178.4 510.8,180.6 511.5,181.6 C512.2,182.5 512.7,183.4 513.1,183.3 C513.5,183.3 513.5,182.5 514.0,181.1 C514.5,179.7 515.5,176.7 516.0,175.1 C516.5,173.5 516.5,173.2 517.0,171.4 C517.5,169.7 518.5,166.1 518.9,164.5 C519.3,163.0 519.0,164.3 519.5,162.1 C520.0,160.0 521.5,153.6 522.0,151.6 C522.5,149.6 521.9,151.8 522.5,150.1 C523.1,148.3 525.0,142.8 525.6,141.1 C526.2,139.4 525.4,141.4 526.0,140.0 C526.6,138.6 528.3,134.2 529.0,132.8 C529.7,131.3 529.5,132.0 530.0,131.3 C530.5,130.6 531.5,129.0 532.3,128.4 C533.1,127.8 534.2,127.7 534.8,127.6 C535.4,127.4 535.0,127.1 535.7,127.5 C536.4,127.9 537.9,129.0 539.0,130.1 C540.1,131.2 541.7,133.4 542.4,134.2 C543.1,135.0 542.2,134.0 543.0,134.8 C543.8,135.5 545.6,137.3 547.0,138.7 C548.4,140.1 550.7,142.0 551.6,142.9 C552.5,143.8 551.8,142.9 552.4,144.0 C553.0,145.0 554.4,148.0 555.0,149.3 C555.6,150.5 555.3,149.7 556.0,151.4 C556.7,153.1 558.5,158.1 559.0,159.5 C559.5,161.0 558.7,158.5 559.1,159.8 C559.5,161.2 561.0,166.1 561.5,167.7 C562.0,169.2 561.6,168.0 562.0,169.1 C562.4,170.3 563.6,173.6 564.1,174.7 C564.6,175.8 564.6,175.4 565.0,175.9 C565.4,176.3 565.8,177.0 566.5,177.4 C567.2,177.7 568.6,177.9 569.0,178.1 C569.4,178.2 568.6,178.2 569.1,178.1 C569.6,177.9 571.0,177.6 572.0,177.1 C573.0,176.7 573.8,175.5 575.0,175.6 C576.2,175.7 577.8,176.5 579.0,177.6 C580.2,178.7 581.8,181.5 582.5,182.5 C583.2,183.4 582.5,182.6 583.0,183.3 C583.5,184.1 584.6,186.4 585.4,187.0 C586.2,187.6 587.2,186.9 588.0,186.9 C588.8,186.8 588.8,186.7 590.0,186.6 C591.2,186.5 594.0,186.4 595.0,186.4 C596.0,186.3 595.2,186.3 596.0,186.3 C596.8,186.4 599.2,186.8 600.0,186.9 C600.8,186.9 600.0,186.9 601.0,186.7 C602.0,186.5 604.8,186.0 605.8,185.7 C606.8,185.4 606.0,185.7 607.0,184.9 C608.0,184.2 611.0,182.0 612.0,181.3 C613.0,180.7 612.0,181.3 613.0,181.0 C614.0,180.8 617.1,180.0 618.1,179.8 C619.1,179.6 618.0,179.7 619.0,180.0 C620.0,180.2 623.0,180.9 624.0,181.2 C625.0,181.4 624.0,181.1 625.0,181.3 C626.0,181.4 629.1,181.7 630.3,181.9 C631.5,182.1 629.3,181.7 632.0,182.3 C634.7,183.0 640.8,185.2 646.6,185.9 C652.4,186.6 661.1,186.3 667.0,186.6 C672.9,186.8 679.3,187.4 681.8,187.5" fill="none" stroke="#f47a7e" stroke-width="0.9"/>
<path d="M462.5,187.9 C463.8,187.7 467.7,186.8 470.4,186.7 C473.1,186.6 475.9,188.1 478.7,187.5 C481.5,186.9 484.6,184.1 487.1,183.0 C489.6,181.9 491.7,182.0 493.8,181.0 C495.9,180.0 498.3,178.1 500.0,177.0 C501.7,175.9 502.6,174.7 503.9,174.5 C505.2,174.3 507.2,175.6 508.0,176.0 C508.8,176.4 508.3,176.4 508.9,177.0 C509.5,177.7 510.8,179.7 511.5,180.0 C512.2,180.3 512.7,179.1 513.1,178.7 C513.5,178.4 513.5,179.2 514.0,178.0 C514.5,176.8 515.5,173.0 516.0,171.3 C516.5,169.7 516.5,169.6 517.0,168.0 C517.5,166.4 518.5,163.3 518.9,161.9 C519.3,160.6 519.0,162.0 519.5,160.0 C520.0,158.0 521.5,152.0 522.0,150.0 C522.5,148.0 521.9,150.0 522.5,148.0 C523.1,146.0 525.0,140.1 525.6,138.3 C526.2,136.4 525.4,138.1 526.0,137.0 C526.6,135.9 528.3,132.9 529.0,131.8 C529.7,130.6 529.5,130.6 530.0,130.0 C530.5,129.4 531.5,129.0 532.3,128.4 C533.1,127.9 534.2,126.9 534.8,126.7 C535.4,126.5 535.0,126.8 535.7,127.1 C536.4,127.4 537.9,127.9 539.0,128.5 C540.1,129.1 541.7,130.2 542.4,130.6 C543.1,131.0 542.2,130.5 543.0,131.0 C543.8,131.5 545.6,132.5 547.0,133.5 C548.4,134.5 550.7,135.9 551.6,136.8 C552.5,137.7 551.8,137.4 552.4,139.0 C553.0,140.5 554.4,144.3 555.0,146.0 C555.6,147.7 555.3,147.0 556.0,149.0 C556.7,151.0 558.5,156.4 559.0,158.0 C559.5,159.6 558.7,156.9 559.1,158.3 C559.5,159.7 561.0,164.7 561.5,166.3 C562.0,167.9 561.6,167.0 562.0,168.0 C562.4,169.0 563.6,171.2 564.1,172.2 C564.6,173.2 564.6,173.6 565.0,174.0 C565.4,174.4 565.8,174.4 566.5,174.8 C567.2,175.1 568.6,175.8 569.0,176.0 C569.4,176.2 568.6,176.2 569.1,176.0 C569.6,175.7 571.0,174.8 572.0,174.5 C573.0,174.2 573.8,173.4 575.0,174.0 C576.2,174.6 577.8,176.6 579.0,178.0 C580.2,179.4 581.8,181.5 582.5,182.4 C583.2,183.2 582.5,182.7 583.0,183.0 C583.5,183.3 584.6,183.6 585.4,184.0 C586.2,184.3 587.2,184.8 588.0,185.0 C588.8,185.2 588.8,185.1 590.0,185.1 C591.2,185.2 594.0,185.4 595.0,185.5 C596.0,185.6 595.2,185.5 596.0,185.7 C596.8,185.8 599.2,186.2 600.0,186.3 C600.8,186.5 600.0,186.6 601.0,186.5 C602.0,186.4 604.8,185.9 605.8,185.7 C606.8,185.5 606.0,186.0 607.0,185.5 C608.0,185.0 611.0,183.2 612.0,182.6 C613.0,182.0 612.0,182.3 613.0,182.0 C614.0,181.7 617.1,181.0 618.1,180.7 C619.1,180.5 618.0,180.3 619.0,180.5 C620.0,180.7 623.0,181.5 624.0,181.8 C625.0,182.0 624.0,181.8 625.0,182.0 C626.0,182.2 629.1,182.9 630.3,183.1 C631.5,183.4 629.3,182.9 632.0,183.5 C634.7,184.1 640.8,186.1 646.6,186.5 C652.4,186.9 661.1,186.0 667.0,186.0 C672.9,186.0 679.3,186.4 681.8,186.5" fill="none" stroke="#2b3cf0" stroke-width="1.4"/>
<path d="M462.5,187.9 C463.8,187.7 467.7,186.7 470.4,186.7 C473.1,186.7 475.9,188.3 478.7,187.9 C481.5,187.5 484.6,185.3 487.1,184.5 C489.6,183.7 491.7,183.9 493.8,182.8 C495.9,181.7 498.3,179.2 500.0,178.0 C501.7,176.8 502.6,175.4 503.9,175.3 C505.2,175.2 507.2,176.9 508.0,177.4 C508.8,177.8 508.3,177.0 508.9,177.8 C509.5,178.6 510.8,180.8 511.5,181.9 C512.2,183.1 512.7,184.5 513.1,184.5 C513.5,184.5 513.5,183.3 514.0,181.9 C514.5,180.4 515.5,177.6 516.0,176.0 C516.5,174.4 516.5,174.1 517.0,172.3 C517.5,170.5 518.5,166.8 518.9,165.2 C519.3,163.6 519.0,164.8 519.5,162.6 C520.0,160.4 521.5,154.0 522.0,152.0 C522.5,150.0 521.9,152.3 522.5,150.6 C523.1,148.9 525.0,143.4 525.6,141.8 C526.2,140.2 525.4,142.2 526.0,140.8 C526.6,139.3 528.3,134.5 529.0,133.0 C529.7,131.5 529.5,132.4 530.0,131.6 C530.5,130.8 531.5,129.0 532.3,128.4 C533.1,127.8 534.2,127.9 534.8,127.8 C535.4,127.7 535.0,127.2 535.7,127.6 C536.4,128.0 537.9,129.2 539.0,130.5 C540.1,131.8 541.7,134.2 542.4,135.1 C543.1,136.0 542.2,134.9 543.0,135.7 C543.8,136.6 545.6,138.6 547.0,140.0 C548.4,141.4 550.7,143.6 551.6,144.4 C552.5,145.3 551.8,144.3 552.4,145.2 C553.0,146.1 554.4,149.0 555.0,150.1 C555.6,151.2 555.3,150.4 556.0,152.0 C556.7,153.6 558.5,158.6 559.0,159.9 C559.5,161.3 558.7,158.9 559.1,160.2 C559.5,161.5 561.0,166.5 561.5,168.0 C562.0,169.5 561.6,168.2 562.0,169.4 C562.4,170.6 563.6,174.1 564.1,175.3 C564.6,176.5 564.6,175.9 565.0,176.3 C565.4,176.8 565.8,177.6 566.5,178.0 C567.2,178.4 568.6,178.5 569.0,178.6 C569.4,178.7 568.6,178.7 569.1,178.6 C569.6,178.5 571.0,178.2 572.0,177.8 C573.0,177.4 573.8,176.1 575.0,176.0 C576.2,175.9 577.8,176.4 579.0,177.5 C580.2,178.6 581.8,181.5 582.5,182.5 C583.2,183.5 582.5,182.5 583.0,183.4 C583.5,184.3 584.6,187.1 585.4,187.8 C586.2,188.5 587.2,187.5 588.0,187.3 C588.8,187.2 588.8,187.1 590.0,187.0 C591.2,186.9 594.0,186.7 595.0,186.6 C596.0,186.5 595.2,186.4 596.0,186.5 C596.8,186.6 599.2,187.0 600.0,187.0 C600.8,187.0 600.0,187.0 601.0,186.8 C602.0,186.6 604.8,186.0 605.8,185.7 C606.8,185.4 606.0,185.6 607.0,184.8 C608.0,184.0 611.0,181.7 612.0,181.0 C613.0,180.3 612.0,181.0 613.0,180.8 C614.0,180.5 617.1,179.8 618.1,179.6 C619.1,179.4 618.0,179.6 619.0,179.8 C620.0,180.0 623.0,180.8 624.0,181.0 C625.0,181.2 624.0,181.0 625.0,181.1 C626.0,181.2 629.1,181.4 630.3,181.6 C631.5,181.8 629.3,181.3 632.0,182.0 C634.7,182.7 640.8,184.9 646.6,185.7 C652.4,186.5 661.1,186.3 667.0,186.7 C672.9,187.0 679.3,187.6 681.8,187.8" fill="none" stroke="#f0242c" stroke-width="1.6"/>
<rect x="462.5" y="12.6" width="219.3" height="176.6" fill="none" stroke="#2b2b2b" stroke-width="1"/>
<line x1="462.5" y1="189.2" x2="462.5" y2="192.4" stroke="#2b2b2b" stroke-width="1"/>
<line x1="499.1" y1="189.2" x2="499.1" y2="192.4" stroke="#2b2b2b" stroke-width="1"/>
<line x1="535.6" y1="189.2" x2="535.6" y2="192.4" stroke="#2b2b2b" stroke-width="1"/>
<line x1="572.1" y1="189.2" x2="572.1" y2="192.4" stroke="#2b2b2b" stroke-width="1"/>
<line x1="608.7" y1="189.2" x2="608.7" y2="192.4" stroke="#2b2b2b" stroke-width="1"/>
<line x1="645.2" y1="189.2" x2="645.2" y2="192.4" stroke="#2b2b2b" stroke-width="1"/>
<line x1="681.8" y1="189.2" x2="681.8" y2="192.4" stroke="#2b2b2b" stroke-width="1"/>
<line x1="480.8" y1="189.2" x2="480.8" y2="192.4" stroke="#2b2b2b" stroke-width="1"/>
<line x1="517.3" y1="189.2" x2="517.3" y2="192.4" stroke="#2b2b2b" stroke-width="1"/>
<line x1="553.9" y1="189.2" x2="553.9" y2="192.4" stroke="#2b2b2b" stroke-width="1"/>
<line x1="590.4" y1="189.2" x2="590.4" y2="192.4" stroke="#2b2b2b" stroke-width="1"/>
<line x1="627.0" y1="189.2" x2="627.0" y2="192.4" stroke="#2b2b2b" stroke-width="1"/>
<line x1="663.5" y1="189.2" x2="663.5" y2="192.4" stroke="#2b2b2b" stroke-width="1"/>
<text x="462.5" y="204.6" font-size="11.6" text-anchor="middle" fill="#1a1a1a" >0</text>
<text x="499.1" y="204.6" font-size="11.6" text-anchor="middle" fill="#1a1a1a" >1</text>
<text x="535.6" y="204.6" font-size="11.6" text-anchor="middle" fill="#1a1a1a" >2</text>
<text x="572.1" y="204.6" font-size="11.6" text-anchor="middle" fill="#1a1a1a" >3</text>
<text x="608.7" y="204.6" font-size="11.6" text-anchor="middle" fill="#1a1a1a" >4</text>
<text x="645.2" y="204.6" font-size="11.6" text-anchor="middle" fill="#1a1a1a" >5</text>
<text x="681.8" y="204.6" font-size="11.6" text-anchor="middle" fill="#1a1a1a" >6</text>
<text x="572.2" y="223.1" font-size="11.5" text-anchor="middle" fill="#1a1a1a" >Radial distance (Å)</text>
<text transform="translate(455.6,100.9) rotate(-90)" font-size="11.5" text-anchor="middle" fill="#1a1a1a">|<tspan font-style="italic">χ</tspan>(<tspan font-style="italic">R</tspan>)| (Å<tspan dy="-4" font-size="7.5">−4</tspan><tspan dy="4">)</tspan></text>
<text x="500.6" y="27.8" font-size="9.3" text-anchor="start" fill="#9e2b33" >Ni-Ni</text>
<text x="551.9" y="36.3" font-size="9.3" text-anchor="start" fill="#3a5c9e" >Ni-In</text>
<text x="484.5" y="60.5" font-size="9.0" text-anchor="start" fill="#111" >Ni-C</text>
<text x="633.4" y="28" font-size="9.4" fill="#d8232a">CO<tspan dy="2.2" font-size="7">2</tspan><tspan dy="-2.2">/H</tspan><tspan dy="2.2" font-size="7">2</tspan><tspan dy="-2.2">-2</tspan></text>
<text x="646" y="102" font-size="9.3" fill="#3a5c9e">CO/H<tspan dy="2.2" font-size="7">2</tspan></text>
<text x="634" y="158.2" font-size="9.2" fill="#d8232a">CO<tspan dy="2.2" font-size="7">2</tspan><tspan dy="-2.2">/H</tspan><tspan dy="2.2" font-size="7">2</tspan><tspan dy="-2.2">-1</tspan></text>
<path d="M530.6,17 L533,12.9 L535.4,17 Z" fill="#f06868"/>
<line x1="533.0" y1="25.0" x2="533.0" y2="35.0" stroke="#2b3cf0" stroke-width="1.2" stroke-dasharray="2,1.2"/>
<line x1="554.6" y1="38.5" x2="554.6" y2="43.0" stroke="#2b3cf0" stroke-width="1.2" stroke-dasharray="none"/>
<line x1="533.6" y1="76.0" x2="533.6" y2="82.0" stroke="#2b3cf0" stroke-width="1.2" stroke-dasharray="none"/>
<line x1="554.7" y1="96.0" x2="554.7" y2="101.0" stroke="#2b3cf0" stroke-width="1.2" stroke-dasharray="none"/>
<line x1="534.8" y1="123.0" x2="534.8" y2="129.0" stroke="#2b3cf0" stroke-width="1.2" stroke-dasharray="none"/>
<line x1="551.6" y1="133.0" x2="551.6" y2="139.0" stroke="#2b3cf0" stroke-width="1.2" stroke-dasharray="none"/>
<line x1="554.6" y1="44.0" x2="554.6" y2="52.0" stroke="#f07070" stroke-width="0.9"/>
<path d="M554.6,52.0 l-2,-3.5 l4,0 z" fill="#f07070"/>
<line x1="533.6" y1="89.0" x2="533.6" y2="97.0" stroke="#f07070" stroke-width="0.9"/>
<path d="M533.6,97.0 l-2,-3.5 l4,0 z" fill="#f07070"/>
<line x1="554.0" y1="107.0" x2="554.0" y2="115.0" stroke="#f07070" stroke-width="0.9"/>
<path d="M554.0,115.0 l-2,-3.5 l4,0 z" fill="#f07070"/>
<line x1="534.8" y1="130.0" x2="534.8" y2="138.0" stroke="#f07070" stroke-width="0.9"/>
<path d="M534.8,138.0 l-2,-3.5 l4,0 z" fill="#f07070"/>
<line x1="551.0" y1="142.0" x2="551.0" y2="150.0" stroke="#f07070" stroke-width="0.9"/>
<path d="M551.0,150.0 l-2,-3.5 l4,0 z" fill="#f07070"/>
<rect x="37.6" y="256.5" width="17.7" height="9.9" fill="#d3d3d3" stroke="#8a8a8a" stroke-width="0.8"/>
<rect x="37.6" y="291.7" width="57.2" height="10.5" fill="#d3d3d3" stroke="#8a8a8a" stroke-width="0.8"/>
<rect x="37.6" y="326.7" width="21.4" height="10.6" fill="#d3d3d3" stroke="#8a8a8a" stroke-width="0.8"/>
<rect x="37.6" y="362.4" width="22.1" height="10.1" fill="#d3d3d3" stroke="#8a8a8a" stroke-width="0.8"/>
<rect x="37.6" y="397.4" width="27.4" height="10.6" fill="#d3d3d3" stroke="#8a8a8a" stroke-width="0.8"/>
<defs><linearGradient id="gd" x1="0" y1="0" x2="0" y2="1"><stop offset="0" stop-color="#e6e6e6"/><stop offset="1" stop-color="#555"/></linearGradient></defs>
<path d="M66.2,328.5 L77.6,398" stroke="url(#gd)" stroke-width="1" fill="none"/>
<path d="M78.5,403.5 L75.2,396.2 L79.8,395.6 Z" fill="#4a4a4a"/>
<rect x="37.6" y="243.7" width="90.4" height="176.5" fill="none" stroke="#2b2b2b" stroke-width="1"/>
<line x1="37.6" y1="420.2" x2="37.6" y2="423.4" stroke="#2b2b2b" stroke-width="1"/>
<line x1="67.7" y1="420.2" x2="67.7" y2="423.4" stroke="#2b2b2b" stroke-width="1"/>
<line x1="97.9" y1="420.2" x2="97.9" y2="423.4" stroke="#2b2b2b" stroke-width="1"/>
<line x1="128.0" y1="420.2" x2="128.0" y2="423.4" stroke="#2b2b2b" stroke-width="1"/>
<line x1="52.7" y1="420.2" x2="52.7" y2="423.4" stroke="#2b2b2b" stroke-width="1"/>
<line x1="82.8" y1="420.2" x2="82.8" y2="423.4" stroke="#2b2b2b" stroke-width="1"/>
<line x1="112.9" y1="420.2" x2="112.9" y2="423.4" stroke="#2b2b2b" stroke-width="1"/>
<text x="37.6" y="435.4" font-size="11.6" text-anchor="middle" fill="#1a1a1a" >1.5</text>
<text x="67.7" y="435.4" font-size="11.6" text-anchor="middle" fill="#1a1a1a" >1.6</text>
<text x="97.9" y="435.4" font-size="11.6" text-anchor="middle" fill="#1a1a1a" >1.7</text>
<text x="128.0" y="435.4" font-size="11.6" text-anchor="middle" fill="#1a1a1a" >1.8</text>
<text x="82.9" y="454.1" font-size="11.7" text-anchor="middle" fill="#1a1a1a" >CN Ratio (Ni-Ni/Ni-In)</text>
<text transform="translate(33.2,276.2) rotate(45)" font-size="9.8" text-anchor="end" fill="#1a1a1a">NiInC</text>
<text transform="translate(33.2,307.2) rotate(45)" font-size="9.8" text-anchor="end" fill="#1a1a1a">Spent</text>
<text transform="translate(32.5,345.7) rotate(45)" font-size="9.8" text-anchor="end" fill="#1a1a1a">CO/H<tspan dy="2" font-size="7">2</tspan></text>
<text transform="translate(32.5,387.2) rotate(45)" font-size="9.8" text-anchor="end" fill="#1a1a1a">CO/CO<tspan dy="2" font-size="7">2</tspan><tspan dy="-2">/H</tspan><tspan dy="2" font-size="7">2</tspan></text>
<text transform="translate(32.8,419.2) rotate(45)" font-size="9.8" text-anchor="end" fill="#1a1a1a">CO<tspan dy="2" font-size="7">2</tspan><tspan dy="-2">/H</tspan><tspan dy="2" font-size="7">2</tspan></text>
<defs>
<linearGradient id="gb" x1="0" y1="0" x2="1" y2="0"><stop offset="0" stop-color="#1a7fe2" stop-opacity="0"/><stop offset="0.25" stop-color="#1a7fe2" stop-opacity="0.1"/><stop offset="0.6" stop-color="#1a7fe2" stop-opacity="0.55"/><stop offset="1" stop-color="#1a7fe2"/></linearGradient>
<linearGradient id="gr" x1="0" y1="0" x2="1" y2="0"><stop offset="0" stop-color="#f43c4c" stop-opacity="0"/><stop offset="0.2" stop-color="#f43c4c" stop-opacity="0.1"/><stop offset="0.6" stop-color="#f43c4c" stop-opacity="0.55"/><stop offset="1" stop-color="#f43c4c"/></linearGradient>
<linearGradient id="gg" x1="0" y1="1" x2="0" y2="0"><stop offset="0" stop-color="#6a6a6a" stop-opacity="0.05"/><stop offset="0.5" stop-color="#6a6a6a" stop-opacity="0.45"/><stop offset="1" stop-color="#6a6a6a"/></linearGradient>
<linearGradient id="gg2" x1="0" y1="0" x2="1" y2="0"><stop offset="0" stop-color="#6e6e6e" stop-opacity="0"/><stop offset="1" stop-color="#6e6e6e"/></linearGradient>
<radialGradient id="gpink" cx="0.42" cy="0.4" r="0.65"><stop offset="0" stop-color="#f5708c"/><stop offset="0.8" stop-color="#e8456a"/><stop offset="1" stop-color="#d83a5e"/></radialGradient>
<radialGradient id="gblue" cx="0.42" cy="0.4" r="0.65"><stop offset="0" stop-color="#2c9cf6"/><stop offset="0.8" stop-color="#168aec"/><stop offset="1" stop-color="#1178dc"/></radialGradient>
<pattern id="pdot" width="2.4" height="2.4" patternUnits="userSpaceOnUse" patternTransform="rotate(20)"><rect x="0" y="0" width="1.1" height="1.1" fill="#ffffff" fill-opacity="0.28"/><rect x="1.2" y="1.2" width="1.1" height="1.1" fill="#000000" fill-opacity="0.12"/></pattern>
</defs>
<line x1="281.7" y1="213.8" x2="240.8" y2="344.6" stroke="#ff3838" stroke-width="1.6"/>
<line x1="192.6" y1="344.6" x2="240.8" y2="344.6" stroke="#3cb81c" stroke-width="1.7"/>
<line x1="240.8" y1="344.6" x2="240.8" y2="420.2" stroke="#8f8f8f" stroke-width="1.7"/>
<line x1="386.8" y1="243.7" x2="386.8" y2="420.2" stroke="#1f78dc" stroke-width="1.6"/>
<rect x="236" y="374.4" width="9" height="5.6" fill="#fff"/>
<path d="M229.0,306.4 L282.5,306.4 L282.5,303.4 L294.6,309.0 L282.5,314.6 L282.5,311.6 L229.0,311.6 Z" fill="url(#gb)"/>
<path d="M222.0,374.6 L293.0,374.6 L293.0,371.6 L304.8,377.2 L293.0,382.8 L293.0,379.8 L222.0,379.8 Z" fill="url(#gb)"/>
<path d="M318.0,305.9 L387.5,305.9 L387.5,302.9 L398.5,308.5 L387.5,314.1 L387.5,311.1 L318.0,311.1 Z" fill="url(#gr)"/>
<path d="M300.0,374.1 L387.5,374.1 L387.5,371.1 L398.5,376.7 L387.5,382.3 L387.5,379.3 L300.0,379.3 Z" fill="url(#gr)"/>
<rect x="212.4" y="341" width="4.2" height="7" fill="#fff"/>
<path d="M212.4,353 L212.4,334.5 L209.2,334.5 L214.5,323.3 L219.8,334.5 L216.6,334.5 L216.6,353 Z" fill="url(#gg)"/>
<circle cx="214.7" cy="308.2" r="13.6" fill="url(#gpink)"/>
<circle cx="214.7" cy="308.2" r="13.6" fill="url(#pdot)"/>
<circle cx="311.0" cy="308.6" r="14.0" fill="url(#gpink)"/>
<circle cx="311.0" cy="308.6" r="14.0" fill="url(#pdot)"/>
<circle cx="214.7" cy="368.2" r="13.8" fill="url(#gblue)"/>
<circle cx="214.7" cy="368.2" r="13.8" fill="url(#pdot)"/>
<path d="M205.2,298.7 A13.4,13.4 0 0 1 221.8,296.8" stroke="#3a1820" stroke-width="1.1" fill="none"/>
<path d="M298.0,303.9 A13.8,13.8 0 0 1 317.5,296.4" stroke="#3a1820" stroke-width="1.1" fill="none" stroke-dasharray="3,1"/>
<circle cx="310" cy="287.2" r="3.4" fill="#1f66d6" stroke="#173d80" stroke-width="0.6"/>
<rect x="192.6" y="243.7" width="219.9" height="176.5" fill="none" stroke="#2b2b2b" stroke-width="1"/>
<line x1="189.4" y1="243.7" x2="192.6" y2="243.7" stroke="#2b2b2b" stroke-width="1"/>
<line x1="189.4" y1="287.8" x2="192.6" y2="287.8" stroke="#2b2b2b" stroke-width="1"/>
<line x1="189.4" y1="331.9" x2="192.6" y2="331.9" stroke="#2b2b2b" stroke-width="1"/>
<line x1="189.4" y1="376.1" x2="192.6" y2="376.1" stroke="#2b2b2b" stroke-width="1"/>
<line x1="189.4" y1="420.2" x2="192.6" y2="420.2" stroke="#2b2b2b" stroke-width="1"/>
<line x1="191.2" y1="265.8" x2="192.6" y2="265.8" stroke="#2b2b2b" stroke-width="1"/>
<line x1="191.2" y1="309.9" x2="192.6" y2="309.9" stroke="#2b2b2b" stroke-width="1"/>
<line x1="191.2" y1="354.0" x2="192.6" y2="354.0" stroke="#2b2b2b" stroke-width="1"/>
<line x1="191.2" y1="398.1" x2="192.6" y2="398.1" stroke="#2b2b2b" stroke-width="1"/>
<line x1="192.6" y1="420.2" x2="192.6" y2="423.4" stroke="#2b2b2b" stroke-width="1"/>
<line x1="247.6" y1="420.2" x2="247.6" y2="423.4" stroke="#2b2b2b" stroke-width="1"/>
<line x1="302.6" y1="420.2" x2="302.6" y2="423.4" stroke="#2b2b2b" stroke-width="1"/>
<line x1="357.5" y1="420.2" x2="357.5" y2="423.4" stroke="#2b2b2b" stroke-width="1"/>
<line x1="412.5" y1="420.2" x2="412.5" y2="423.4" stroke="#2b2b2b" stroke-width="1"/>
<line x1="220.1" y1="420.2" x2="220.1" y2="423.4" stroke="#2b2b2b" stroke-width="1"/>
<line x1="275.1" y1="420.2" x2="275.1" y2="423.4" stroke="#2b2b2b" stroke-width="1"/>
<line x1="330.0" y1="420.2" x2="330.0" y2="423.4" stroke="#2b2b2b" stroke-width="1"/>
<line x1="385.0" y1="420.2" x2="385.0" y2="423.4" stroke="#2b2b2b" stroke-width="1"/>
<text x="187.0" y="247.9" font-size="11.6" text-anchor="end" fill="#1a1a1a" >−3</text>
<text x="187.0" y="292.0" font-size="11.6" text-anchor="end" fill="#1a1a1a" >−6</text>
<text x="187.0" y="336.1" font-size="11.6" text-anchor="end" fill="#1a1a1a" >−9</text>
<text x="187.0" y="380.3" font-size="11.6" text-anchor="end" fill="#1a1a1a" >−12</text>
<text x="187.0" y="424.4" font-size="11.6" text-anchor="end" fill="#1a1a1a" >−15</text>
<text x="192.6" y="436.0" font-size="11.6" text-anchor="middle" fill="#1a1a1a" >−20</text>
<text x="247.6" y="436.0" font-size="11.6" text-anchor="middle" fill="#1a1a1a" >−16</text>
<text x="302.6" y="436.0" font-size="11.6" text-anchor="middle" fill="#1a1a1a" >−12</text>
<text x="357.5" y="436.0" font-size="11.6" text-anchor="middle" fill="#1a1a1a" >−8</text>
<text x="412.5" y="436.0" font-size="11.6" text-anchor="middle" fill="#1a1a1a" >−4</text>
<text x="302.1" y="456" font-size="11.5" text-anchor="middle" fill="#1a1a1a"><tspan font-style="italic">μ</tspan><tspan dy="2.5" font-size="8.5">O</tspan><tspan dy="-2.5"> (eV)</tspan></text>
<text transform="translate(162.6,331.5) rotate(-90)" font-size="12" text-anchor="middle" fill="#1a1a1a"><tspan font-style="italic">μ</tspan><tspan dy="2.5" font-size="8.5">C</tspan><tspan dy="-2.5"> (eV)</tspan></text>
<text x="202.5" y="277.8" font-size="11.9" fill="#1a1a1a">Ni<tspan dy="3.2" font-size="8.5">3</tspan><tspan dy="-3.2">InC</tspan><tspan dy="3.2" font-size="8.5">0.5</tspan></text>
<text x="286.2" y="278" font-size="11.9" fill="#1a1a1a">Ni + In<tspan dy="3.2" font-size="8.5">2</tspan><tspan dy="-3.2">O</tspan><tspan dy="3.2" font-size="8.5">3</tspan></text>
<text x="201.8" y="396" font-size="12" fill="#1a1a1a">Ni<tspan dy="3.2" font-size="8.5">3</tspan><tspan dy="-3.2">In</tspan></text>
<text x="237.6" y="301.4" font-size="8.1" fill="#1a1a1a">CO<tspan dy="1.8" font-size="6">2</tspan><tspan dy="-1.8"> + H</tspan><tspan dy="1.8" font-size="6">2</tspan></text>
<text x="237" y="321.8" font-size="8.1" fill="#1a1a1a">CO<tspan dy="1.8" font-size="6">2</tspan></text>
<text x="253.7" y="372.2" font-size="8.1" fill="#1a1a1a">CO<tspan dy="1.8" font-size="6">2</tspan></text>
<text x="243.8" y="389.7" font-size="8.1" fill="#1a1a1a">CO<tspan dy="1.8" font-size="6">2</tspan><tspan dy="-1.8"> + H</tspan><tspan dy="1.8" font-size="6">2</tspan></text>
<line x1="242" y1="383" x2="281.1" y2="393.8" stroke="#f03030" stroke-width="0.9" stroke-dasharray="3,1.5"/>
<line x1="242" y1="393.4" x2="281.1" y2="382.5" stroke="#f03030" stroke-width="0.9" stroke-dasharray="3,1.5"/>
<text x="344.4" y="343.5" font-size="8.1" fill="#1a1a1a">O<tspan dy="1.6" font-size="5.5">2</tspan><tspan dy="-1.6"> or H</tspan><tspan dy="1.6" font-size="5.5">2</tspan><tspan dy="-1.6">O</tspan></text>
<text transform="translate(404.3,370.2) rotate(-90)" font-size="11.9" fill="#1a1a1a">NiO + In<tspan dy="2.5" font-size="8.5">2</tspan><tspan dy="-2.5">O</tspan><tspan dy="2.5" font-size="8.5">3</tspan></text>
<circle cx="188.4" cy="466" r="3.3" fill="#1f66d6" stroke="#173d80" stroke-width="0.6"/>
<text x="197.9" y="468.9" font-size="8.3" text-anchor="start" fill="#1a1a1a" >Equilibrium conditions</text>
<path d="M301.4,464.4 L319.4,464.4 L319.4,461.3 L330.2,467.0 L319.4,472.7 L319.4,469.6 L301.4,469.6 Z" fill="url(#gg2)"/>
<text x="334.6" y="470.2" font-size="8.3" text-anchor="start" fill="#1a1a1a" >Bulk carburization</text>
<path d="M181.4,481.4 L199.4,481.4 L199.4,479.0 L209.8,484.0 L199.4,489.0 L199.4,486.6 L181.4,486.6 Z" fill="url(#gb)"/>
<text x="212.1" y="485.6" font-size="8.3" text-anchor="start" fill="#1a1a1a" >Selective oxidation</text>
<path d="M301.4,481.9 L319.4,481.9 L319.4,479.0 L330.2,484.5 L319.4,490.0 L319.4,487.1 L301.4,487.1 Z" fill="url(#gr)"/>
<text x="333.3" y="487.3" font-size="8.3" text-anchor="start" fill="#1a1a1a" >Non-selective oxidation</text>
<defs>
<clipPath id="cf"><rect x="474" y="200" width="200" height="300"/></clipPath>
<pattern id="pcore" width="2.6" height="2.6" patternUnits="userSpaceOnUse"><rect width="2.6" height="2.6" fill="#f25c74"/><rect x="0.2" y="0.8" width="1.75" height="0.9" fill="#4868b4"/></pattern>
<pattern id="pring" width="2" height="2" patternUnits="userSpaceOnUse"><rect width="2" height="2" fill="#ef5876"/><rect x="0.4" y="0.4" width="1.1" height="1.1" fill="#ffffff" fill-opacity="0.85"/></pattern>
<pattern id="pgrey" width="2" height="2" patternUnits="userSpaceOnUse"><rect width="2" height="2" fill="#b8b8b8"/><rect x="0.35" y="0.35" width="1.3" height="1.3" fill="#ffffff" fill-opacity="0.92"/></pattern>
</defs>
<g clip-path="url(#cf)">
<path d="M462.0,264.3 A91.5,91.5 0 0 1 507.2,271.9 L503.6,280.1 A82.5,82.5 0 0 0 462.8,273.3 Z" fill="url(#pgrey)"/>
<path d="M514.4,275.5 A91.5,91.5 0 0 1 546.7,305.7 L539.2,310.6 A82.5,82.5 0 0 0 510.0,283.3 Z" fill="url(#pgrey)"/>
<path d="M550.0,311.1 A91.5,91.5 0 0 1 561.4,352.3 L552.4,352.6 A82.5,82.5 0 0 0 542.2,315.5 Z" fill="url(#pgrey)"/>
<path d="M561.4,358.7 A91.5,91.5 0 0 1 549.2,401.2 L541.4,396.8 A82.5,82.5 0 0 0 552.4,358.4 Z" fill="url(#pgrey)"/>
<path d="M545.9,406.7 A91.5,91.5 0 0 1 517.1,433.9 L512.5,426.2 A82.5,82.5 0 0 0 538.4,401.6 Z" fill="url(#pgrey)"/>
<path d="M511.5,437.0 A91.5,91.5 0 0 1 462.0,446.7 L462.8,437.7 A82.5,82.5 0 0 0 507.5,429.0 Z" fill="url(#pgrey)"/>
<circle cx="470.0" cy="355.5" r="83" fill="url(#pring)"/>
<ellipse cx="470.0" cy="354.3" rx="73.8" ry="76" fill="url(#pcore)"/>
</g>
<text x="483.9" y="358.7" font-size="10.6" fill="#fbe6ea">Ni<tspan dy="2.2" font-size="7">3</tspan><tspan dy="-2.2">InC</tspan><tspan dy="2.2" font-size="7">0.5</tspan></text>
<line x1="534" y1="296.2" x2="588.3" y2="296.2" stroke="#1f73b7" stroke-width="1.1"/>
<circle cx="534" cy="296.1" r="2.5" fill="#1f73b7"/><circle cx="588.3" cy="296.2" r="2.3" fill="#1f73b7"/>
<line x1="546.8" y1="339.9" x2="590.2" y2="339.9" stroke="#1f73b7" stroke-width="1.1"/>
<circle cx="546.8" cy="339.9" r="2.5" fill="#1f73b7"/><circle cx="590.2" cy="339.9" r="2.3" fill="#1f73b7"/>
<text x="596.7" y="294.3" font-size="11" text-anchor="start" fill="#1f73b7" >Reconstructed</text>
<text x="596.7" y="307.7" font-size="10.9" fill="#1f73b7">In<tspan dy="2.2" font-size="7">2</tspan><tspan dy="-2.2">O</tspan><tspan dy="2.2" font-size="7">3-x</tspan><tspan dy="-2.2"> overlayer</tspan></text>
<text x="599.7" y="343.7" font-size="10.9" text-anchor="start" fill="#1f73b7" >Ni-rich layer</text>
<text x="598.1" y="374.5" font-size="10.5" fill="#1f73b7">CO<tspan dy="2.2" font-size="7">2</tspan></text>
<text x="601.0" y="416.9" font-size="10.2" text-anchor="start" fill="#1f73b7" >CO</text>
<text x="558.1" y="446.6" font-size="10.8" text-anchor="start" fill="#1f73b7" >In exsolution</text>
<circle cx="518.4" cy="416.9" r="2.3" fill="#1f73b7"/>
<path d="M518.4,416.9 C528,418 533,424 535,431 C537,438 542,442 549,442.4" stroke="#1f73b7" stroke-width="1.1" fill="none"/>
<path d="M552,442.6 L546.5,439.8 L546.8,445.2 Z" fill="#1f73b7"/>
<defs>
<radialGradient id="gO" cx="0.35" cy="0.35" r="0.7"><stop offset="0" stop-color="#f08a8a"/><stop offset="0.6" stop-color="#d9474d"/><stop offset="1" stop-color="#b8333a"/></radialGradient>
<radialGradient id="gC" cx="0.35" cy="0.35" r="0.7"><stop offset="0" stop-color="#e6e9f2"/><stop offset="0.6" stop-color="#bcc3d6"/><stop offset="1" stop-color="#9aa2ba"/></radialGradient>
</defs>
<path d="M577.6,380 C575.2,388 575.8,395 580.2,400.3" stroke="#cdd3e2" stroke-width="3.9" fill="none"/>
<path d="M576.4,402.9 L583.9,397.6 L584.4,405.8 Z" fill="#cdd3e2"/>
<path d="M574.8,391 C572.6,396 569,399 564.5,400.5" stroke="#e99a9e" stroke-width="3.6" fill="none"/>
<path d="M563.4,396.1 L565.6,404.9 L558.3,402.2 Z" fill="#e99a9e"/>
<circle cx="571.0" cy="373.1" r="4.9" fill="url(#gO)"/>
<circle cx="588.2" cy="362.8" r="4.9" fill="url(#gO)"/>
<circle cx="579.1" cy="368.2" r="4.9" fill="url(#gC)"/>
<circle cx="549.9" cy="404.7" r="4.9" fill="url(#gO)"/>
<circle cx="581.2" cy="414.2" r="4.9" fill="url(#gO)"/>
<circle cx="591.8" cy="411.3" r="4.9" fill="url(#gC)"/>
</svg>
</body></html>
